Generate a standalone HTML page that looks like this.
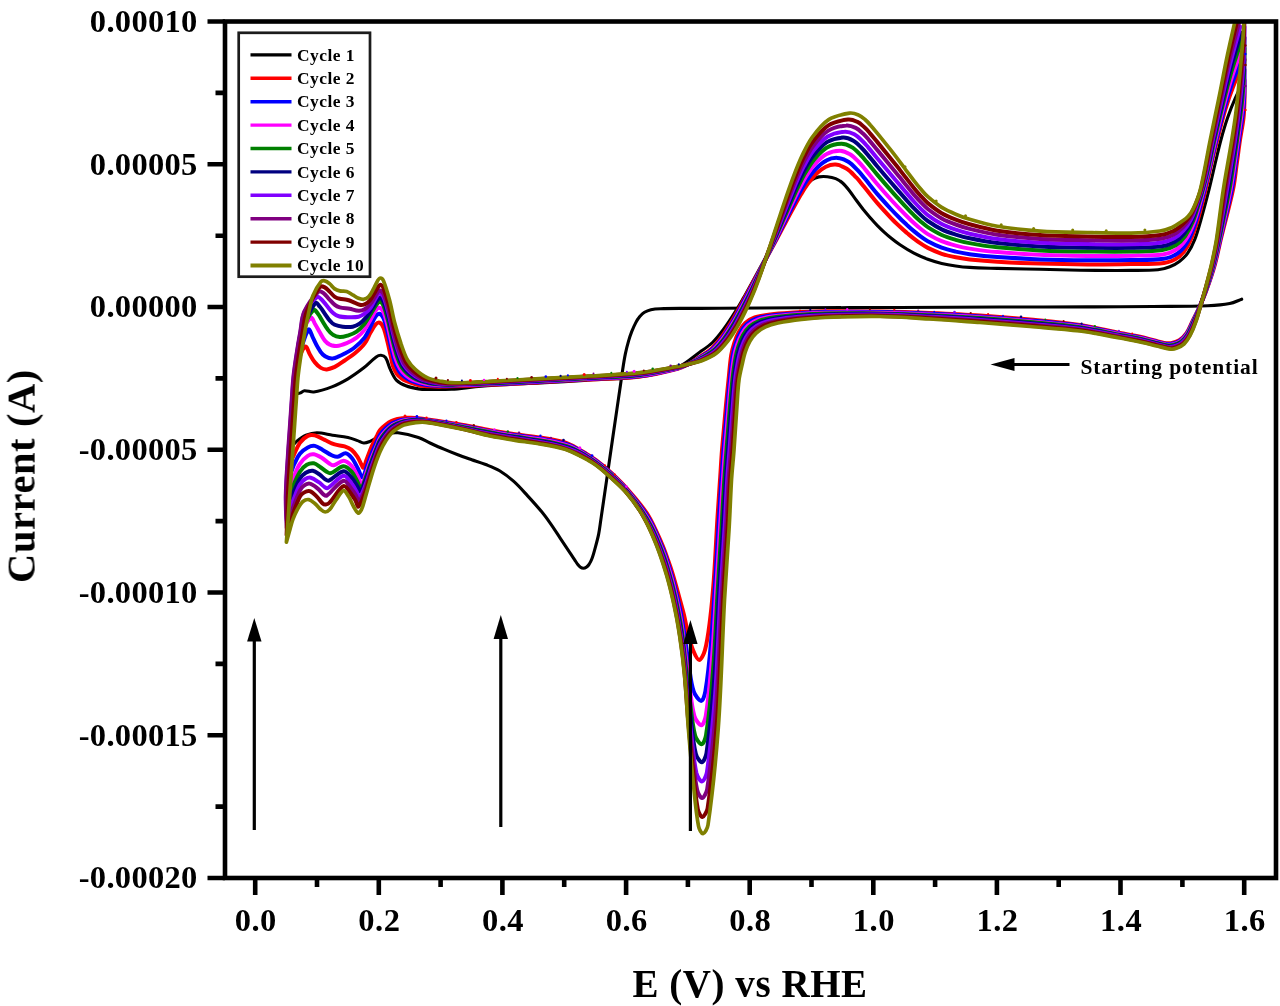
<!DOCTYPE html>
<html lang="en"><head><meta charset="utf-8"><title>Cyclic voltammetry</title>
<style>html,body{margin:0;padding:0;background:#fff}svg{display:block}text{font-family:"Liberation Serif","Times New Roman",serif;font-weight:bold;fill:#000}</style>
</head><body>
<svg width="1280" height="1006" viewBox="0 0 1280 1006">
<defs><clipPath id="plot"><rect x="225" y="20.5" width="1051" height="857.5"/></clipPath><filter id="soft" x="-2%" y="-2%" width="104%" height="104%"><feGaussianBlur stdDeviation="0.7"/></filter></defs>
<rect width="1280" height="1006" fill="#fff"/>
<g filter="url(#soft)">
<g clip-path="url(#plot)" fill="none" stroke-linejoin="round" stroke-linecap="round">
<path d="M1241.7 299.2C1237.7 300.7 1233.9 302.8 1229.7 303.6C1222.6 305.0 1215.1 305.5 1207.8 305.8C1189.6 306.5 1171.3 306.3 1153.0 306.5C1131.2 306.7 1109.3 306.8 1087.5 306.9C1058.3 307.0 1029.2 306.9 1000.0 307.0C966.7 307.1 933.3 307.4 900.0 307.5C866.7 307.6 833.3 307.7 800.0 307.8C773.3 307.9 746.7 308.2 720.0 308.3C706.5 308.4 693.0 308.3 679.5 308.4C673.1 308.4 666.8 308.4 660.4 308.7C657.2 308.8 654.0 309.0 650.9 309.7C648.7 310.2 646.4 311.1 644.5 312.3C642.7 313.4 641.2 315.0 639.8 316.6C638.3 318.4 636.9 320.5 635.8 322.6C634.3 325.4 633.0 328.4 631.8 331.4C630.6 334.5 629.5 337.7 628.6 340.9C627.4 345.1 626.3 349.3 625.4 353.6C624.3 358.9 623.5 364.2 622.7 369.5C621.9 374.8 621.2 380.2 620.4 385.5C618.1 401.4 615.7 417.3 613.4 433.2C611.1 449.1 608.8 465.0 606.5 480.9C604.6 493.9 602.7 507.0 600.8 520.0C600.1 524.6 599.6 529.3 598.7 533.9C597.8 538.6 596.5 543.2 595.2 547.8C594.2 551.6 593.2 555.4 591.8 559.0C591.1 560.9 590.1 562.8 589.0 564.5C588.3 565.5 587.3 566.5 586.3 567.2C585.5 567.8 584.4 568.3 583.4 568.3C582.4 568.3 581.3 567.8 580.5 567.2C579.5 566.5 578.6 565.5 577.8 564.5C576.8 563.2 575.9 561.7 575.0 560.3C573.3 557.8 571.7 555.3 570.0 552.8C566.7 547.8 563.3 542.8 560.0 537.8C556.7 532.8 553.5 527.7 550.0 522.8C547.2 518.9 544.4 515.0 541.3 511.3C536.8 505.9 532.1 500.7 527.4 495.6C522.9 490.7 518.5 485.6 513.5 481.2C509.2 477.4 504.5 473.8 499.6 470.8C495.3 468.2 490.4 466.4 485.7 464.5C481.1 462.7 476.4 461.3 471.7 459.7C467.1 458.1 462.4 456.5 457.8 454.8C453.1 453.0 448.5 451.2 443.9 449.2C439.2 447.2 434.6 445.1 430.0 443.0C426.1 441.2 422.5 438.8 418.4 437.5C411.8 435.4 404.8 433.7 398.0 432.8C395.0 432.4 391.7 432.8 388.8 433.6C384.5 434.7 380.4 436.6 376.2 438.3C374.1 439.2 372.2 440.6 370.0 441.4C368.0 442.2 365.8 443.1 363.8 443.0C361.6 442.9 359.6 441.3 357.5 440.6C354.4 439.5 351.2 438.2 348.0 437.5C342.9 436.4 337.7 436.0 332.5 435.2C327.3 434.4 322.1 432.8 316.9 432.8C313.2 432.8 309.4 433.8 306.0 435.2C302.6 436.6 299.5 439.0 296.6 441.4C294.7 443.0 293.1 445.1 291.5 447.0C290.6 448.1 289.8 449.3 289.0 450.5L289.0 450.5C289.5 443.7 289.9 436.8 290.5 430.0C291.4 420.7 291.9 411.2 293.5 402.0C293.9 399.4 295.0 396.5 296.5 394.5C297.3 393.4 299.2 393.4 300.5 392.8C301.8 392.2 303.0 390.8 304.4 390.7C307.4 390.5 310.7 392.4 313.8 392.0C320.1 391.1 326.5 388.9 332.5 386.6C337.9 384.5 343.0 381.7 348.0 378.8C353.5 375.5 358.7 371.7 363.8 367.8C368.1 364.4 371.8 360.1 376.2 356.9C377.6 355.9 379.5 355.2 381.0 355.3C382.6 355.4 384.7 356.3 385.6 357.7C387.8 361.0 388.5 365.6 390.3 369.4C392.1 373.2 393.8 377.4 396.6 380.3C399.0 382.8 402.6 384.5 405.9 385.8C409.9 387.4 414.2 388.2 418.4 388.9C421.4 389.4 424.6 389.4 427.7 389.4C435.7 389.5 443.7 389.6 451.6 389.2C459.6 388.8 467.5 387.5 475.5 386.8C483.4 386.1 491.4 385.5 499.3 385.0C512.9 384.2 526.4 383.7 540.0 383.0C556.7 382.1 573.3 381.0 590.0 380.0C606.7 379.0 623.5 379.2 640.0 376.8C652.7 375.0 665.8 372.3 677.5 367.5C685.8 364.1 692.6 357.3 700.0 352.0C704.3 349.0 708.8 346.1 712.5 342.5C716.6 338.6 720.0 334.1 723.4 329.5C727.3 324.3 730.9 318.7 734.4 313.1C737.7 308.0 740.7 302.7 743.8 297.4C746.7 292.2 749.6 287.0 752.5 281.7C755.7 275.9 758.8 270.1 762.0 264.3C765.9 257.0 769.8 249.8 773.7 242.5C777.6 235.2 781.5 227.9 785.5 220.7C789.6 213.1 793.7 205.5 798.0 198.0C800.2 194.1 802.3 190.1 805.0 186.6C807.0 184.0 809.4 181.5 812.0 179.7C814.0 178.3 816.6 177.3 819.0 176.9C821.7 176.4 824.6 176.5 827.3 176.7C830.1 177.0 833.1 177.6 835.7 178.6C838.2 179.6 840.6 181.2 842.6 183.0C845.2 185.3 847.4 188.2 849.6 191.0C852.0 194.1 854.2 197.4 856.5 200.5C858.8 203.6 861.1 206.7 863.5 209.8C865.8 212.6 868.1 215.4 870.5 218.1C872.7 220.7 875.0 223.2 877.4 225.6C879.7 227.9 882.0 230.2 884.4 232.4C886.6 234.4 888.9 236.4 891.3 238.3C894.1 240.6 897.0 242.8 900.0 244.8C904.5 247.8 909.1 250.7 913.9 253.2C918.4 255.5 923.1 257.5 927.8 259.3C932.3 261.0 937.0 262.3 941.7 263.4C946.3 264.5 951.0 265.3 955.7 266.0C960.3 266.7 965.0 267.2 969.6 267.4C978.9 267.9 988.1 268.1 997.4 268.4C1011.6 268.8 1025.8 269.0 1040.0 269.3C1053.3 269.6 1066.7 270.0 1080.0 270.2C1096.7 270.4 1113.3 270.5 1130.0 270.4C1139.3 270.4 1148.7 270.6 1157.9 269.8C1162.0 269.4 1166.0 268.3 1169.8 266.8C1173.2 265.5 1176.5 263.7 1179.4 261.5C1182.5 259.1 1185.5 256.3 1187.7 253.1C1190.6 248.9 1192.9 244.2 1194.8 239.4C1197.3 233.0 1199.1 226.2 1201.0 219.5C1203.8 209.6 1206.5 199.7 1209.0 189.7C1211.5 179.8 1213.6 169.9 1216.0 160.0C1217.6 153.3 1219.1 146.6 1220.9 140.0C1222.9 132.6 1225.0 125.2 1227.5 118.0C1229.8 111.4 1232.3 104.8 1235.2 98.4C1238.0 92.1 1241.4 86.1 1244.5 80.0" stroke="#000000" stroke-width="3.1"/>
<path d="M1244.5 80.0C1244.5 86.7 1244.7 93.3 1244.5 100.0C1244.3 106.0 1244.2 112.0 1243.5 118.0C1242.7 125.4 1241.1 132.7 1240.0 140.0C1238.9 147.3 1238.0 154.7 1237.0 162.0C1235.7 171.2 1234.9 180.6 1233.0 189.7C1229.5 206.4 1224.8 222.8 1220.8 239.4C1218.7 248.3 1217.0 257.2 1214.5 266.0C1212.2 274.1 1209.4 282.1 1206.5 290.0C1204.3 296.1 1201.7 302.1 1199.0 308.0C1197.0 312.4 1194.7 316.7 1192.5 321.1C1190.5 325.1 1189.0 329.5 1186.5 333.1C1184.6 335.8 1182.1 338.4 1179.4 340.2C1177.0 341.8 1173.9 342.7 1171.0 343.2C1168.7 343.6 1166.3 343.3 1164.0 343.0C1161.9 342.7 1159.9 341.9 1157.9 341.4C1151.9 339.8 1146.0 338.0 1140.0 336.7C1133.4 335.2 1126.7 334.3 1120.0 333.0C1106.7 330.4 1093.4 327.0 1080.0 325.0C1063.4 322.5 1046.7 321.1 1030.0 319.5C1013.4 317.9 996.7 316.6 980.0 315.5C963.3 314.4 946.7 313.7 930.0 313.0C913.3 312.3 896.7 311.8 880.0 311.5C861.7 311.2 843.3 311.0 825.0 311.2C814.6 311.4 804.2 311.9 793.8 312.5C785.9 313.0 778.1 313.4 770.3 314.4C765.0 315.1 759.6 315.8 754.7 317.5C751.3 318.7 747.9 320.6 745.3 323.0C742.7 325.3 740.7 328.5 739.0 331.6C737.1 335.0 735.6 338.8 734.4 342.5C733.1 346.6 731.9 350.8 731.2 355.0C729.9 363.3 729.4 371.7 728.5 380.0C727.6 388.3 726.8 396.7 726.0 405.0C724.6 420.0 723.2 435.0 722.0 450.0C721.2 460.0 720.7 470.0 720.0 480.0C719.2 492.5 718.3 505.0 717.5 517.5C716.2 538.3 715.3 559.2 713.8 580.0C712.8 593.4 711.7 606.7 710.0 620.0C708.7 630.1 707.6 640.3 705.0 650.0C704.0 653.7 701.2 660.0 699.2 660.0C697.2 660.0 694.5 653.6 693.0 650.0C690.8 644.6 689.5 638.7 688.0 633.0C686.5 627.1 685.4 621.0 684.0 615.0C682.8 610.0 681.4 605.0 680.0 600.0C677.7 591.7 675.5 583.3 673.0 575.0C671.5 570.0 669.8 565.0 668.0 560.0C666.1 554.6 664.3 549.2 662.0 544.0C657.6 534.2 653.6 524.1 648.0 515.0C642.9 506.8 636.4 499.3 630.0 492.0C624.4 485.5 618.3 479.4 612.0 473.5C606.9 468.7 601.6 464.1 596.0 460.0C590.9 456.3 585.5 453.1 580.0 450.0C575.1 447.3 570.3 444.2 565.0 442.5C557.0 440.0 548.4 438.9 540.0 437.5C531.7 436.1 523.3 435.5 515.0 434.3C506.6 433.1 498.3 431.8 490.0 430.3C481.6 428.8 473.4 426.8 465.0 425.3C456.7 423.8 448.3 422.6 440.0 421.3C432.8 420.2 425.6 419.1 418.4 418.3C415.3 417.9 412.1 417.9 409.0 417.8C407.3 417.8 405.6 417.7 403.9 417.9C401.8 418.1 399.6 418.5 397.5 419.0C395.6 419.5 393.7 420.1 391.9 420.9C389.8 421.9 387.8 423.1 386.0 424.5C383.9 426.1 381.7 427.9 380.0 430.0C378.8 431.4 378.2 433.2 377.4 434.9C375.4 438.9 373.3 442.8 371.5 446.9C369.7 451.1 368.2 455.5 366.5 459.8C365.5 462.4 364.7 466.5 363.5 467.7C363.0 468.2 362.1 465.8 361.5 464.8C360.1 462.2 359.1 459.3 357.5 456.8C355.8 454.3 353.9 451.8 351.6 449.9C349.6 448.3 347.1 447.2 344.6 446.4C341.4 445.4 337.9 445.4 334.7 444.4C331.2 443.3 328.0 441.4 324.7 439.9C321.4 438.4 318.2 436.2 314.8 435.4C312.6 434.9 309.8 434.9 307.8 435.9C304.8 437.4 301.9 440.1 299.9 442.9C297.3 446.4 295.9 450.8 293.9 454.8L287.7 468.0L287.7 468.0C288.8 463.7 290.5 459.4 291.0 455.0C292.3 444.6 292.5 433.9 293.2 423.4C293.7 415.6 294.3 407.8 294.8 400.0C295.3 392.7 295.7 385.3 296.4 378.0C297.0 371.8 297.1 365.4 298.8 359.5C300.1 354.9 303.1 347.5 305.4 346.5C306.8 345.9 308.3 351.9 309.9 354.5C311.5 357.2 312.9 360.0 314.9 362.4C316.6 364.5 318.6 366.6 320.8 367.9C322.5 368.9 324.8 369.5 326.8 369.4C329.5 369.2 332.3 368.1 334.8 366.9C338.3 365.2 341.4 362.7 344.7 360.5C348.0 358.2 351.5 356.1 354.6 353.5C358.2 350.5 361.8 347.3 364.6 343.6C367.1 340.3 368.4 336.2 370.5 332.6C372.1 329.9 373.5 326.9 375.5 324.7C376.5 323.6 378.4 322.3 379.5 322.7C381.1 323.3 382.7 325.8 383.5 327.7C385.3 332.1 386.2 336.9 387.4 341.6C388.5 345.9 389.4 350.2 390.4 354.5C391.3 358.3 391.7 362.3 392.9 366.0C393.8 368.6 395.1 371.2 396.6 373.5C397.8 375.2 399.4 376.7 401.0 378.0C402.5 379.2 404.2 380.3 406.0 381.0C409.9 382.6 413.9 384.1 418.0 385.0C421.9 385.9 426.0 386.0 430.0 386.3C434.0 386.6 438.0 386.7 442.0 386.6C458.0 386.2 474.0 385.5 490.0 384.8C506.7 384.1 523.3 383.1 540.0 382.2C556.7 381.3 573.3 380.4 590.0 379.5C606.7 378.5 623.5 378.5 640.0 376.5C652.6 375.0 665.2 372.1 677.5 368.8C681.9 367.6 686.0 365.3 690.0 363.2C693.5 361.3 696.7 359.0 700.0 356.8C704.1 354.0 708.4 351.6 712.0 348.3C715.8 344.7 718.9 340.5 722.0 336.3C725.4 331.6 728.5 326.6 731.5 321.6C734.3 316.9 736.9 312.1 739.5 307.4C742.4 302.2 745.2 296.8 748.0 291.6C750.3 287.3 752.7 283.0 755.0 278.7C757.7 273.7 760.5 268.8 763.2 263.8C765.7 259.3 768.3 254.7 770.8 250.1C773.0 246.1 775.2 242.1 777.3 238.1C780.0 233.1 782.7 228.0 785.4 222.9C788.1 217.8 790.8 212.7 793.6 207.6C796.0 203.2 798.4 198.9 800.9 194.6C803.1 191.0 805.3 187.3 807.8 183.9C810.4 180.4 813.1 176.8 816.2 173.8C819.1 171.1 822.4 168.4 825.9 166.7C828.9 165.3 832.5 164.3 835.7 164.6C839.5 165.0 843.5 166.7 846.8 168.7C850.5 171.0 853.4 174.6 856.5 177.7C859.0 180.3 861.2 183.2 863.5 186.0C868.2 191.7 872.6 197.6 877.4 203.1C881.9 208.3 886.6 213.3 891.3 218.3C894.1 221.2 897.1 224.0 900.0 226.7C902.3 228.9 904.6 230.9 907.0 233.0C909.3 234.9 911.5 236.8 913.9 238.6C916.2 240.4 918.5 242.1 920.9 243.7C923.1 245.2 925.4 246.7 927.8 247.9C932.3 250.1 936.9 252.2 941.7 253.8C946.2 255.3 951.0 256.3 955.7 257.2C960.3 258.1 964.9 258.9 969.6 259.4C978.8 260.3 988.1 261.1 997.4 261.7C1011.6 262.5 1025.8 263.2 1040.0 263.6C1055.8 264.1 1071.7 264.4 1087.5 264.5C1102.0 264.6 1116.5 264.4 1131.0 264.1C1142.0 263.9 1153.2 264.5 1164.0 263.0C1168.9 262.3 1174.1 260.4 1178.0 257.5C1182.1 254.5 1185.5 250.0 1188.0 245.5C1191.7 238.8 1194.2 231.3 1196.5 224.0C1199.8 213.5 1202.4 202.7 1205.0 192.0C1207.2 183.0 1208.9 174.0 1211.0 165.0C1213.2 155.6 1215.6 146.3 1218.0 137.0C1220.4 127.6 1222.7 118.2 1225.5 109.0C1227.7 101.6 1230.2 94.2 1233.0 87.0C1236.5 77.9 1240.7 69.0 1244.5 60.0" stroke="#ff0000" stroke-width="4"/>
<path d="M1244.5 69.4C1244.5 76.7 1244.6 84.0 1244.4 91.2C1244.2 98.0 1243.9 104.7 1243.1 111.5C1242.2 119.7 1240.7 127.9 1239.5 136.2C1238.4 143.9 1237.5 151.6 1236.3 159.2C1234.9 169.4 1233.8 179.6 1231.8 189.7C1228.4 206.4 1224.1 222.9 1220.2 239.5C1218.2 248.2 1216.5 257.1 1214.1 265.7C1211.9 273.8 1209.2 281.8 1206.4 289.7C1204.2 295.8 1201.7 301.9 1199.2 307.9C1197.2 312.3 1195.1 316.7 1193.0 321.1C1191.0 325.2 1189.4 329.6 1187.0 333.4C1185.1 336.2 1182.7 338.8 1180.0 340.6C1177.6 342.3 1174.6 343.2 1171.8 343.8C1169.5 344.3 1167.1 344.1 1164.9 343.8C1162.5 343.5 1160.2 342.6 1157.9 342.0C1151.9 340.5 1146.0 338.7 1140.0 337.4C1133.4 335.9 1126.7 334.9 1120.0 333.6C1106.7 331.0 1093.4 327.7 1080.0 325.8C1063.4 323.3 1046.7 321.9 1030.0 320.4C1013.4 318.8 996.7 317.5 980.0 316.4C963.3 315.3 946.7 314.5 930.0 313.8C913.3 313.0 896.7 312.4 880.0 312.1C861.7 311.8 843.3 311.8 825.0 312.0C814.9 312.2 804.8 312.7 794.7 313.4C786.9 313.9 779.0 314.4 771.3 315.5C766.1 316.2 760.9 317.0 756.1 318.7C752.7 319.9 749.3 321.9 746.7 324.2C744.1 326.6 742.1 329.7 740.4 332.8C738.5 336.2 737.0 339.9 735.8 343.7C734.4 347.7 733.3 351.9 732.6 356.2C731.3 364.1 730.7 372.0 729.8 380.0C728.9 388.3 728.1 396.7 727.4 405.0C726.0 420.0 724.7 435.0 723.5 450.0C722.7 460.0 722.1 470.0 721.4 480.0C720.6 493.1 719.7 506.3 718.9 519.4C717.6 540.8 716.5 562.2 715.1 583.6C713.8 603.2 712.8 622.8 711.0 642.4C709.6 658.7 708.1 675.1 705.4 691.2C704.8 694.7 703.0 700.9 701.2 700.9C699.1 700.9 694.9 695.2 693.7 691.4C690.7 682.7 690.2 672.9 688.6 663.6C687.1 654.3 686.0 645.0 684.6 635.7C683.3 627.6 682.2 619.5 680.6 611.4C678.6 601.7 676.3 592.1 673.8 582.5C672.3 576.8 670.6 571.2 668.8 565.6C666.8 559.7 665.0 553.6 662.6 547.9C658.4 538.0 654.4 527.9 649.0 518.6C644.1 510.2 637.8 502.5 631.6 495.0C626.1 488.3 620.1 482.0 613.9 476.0C608.8 471.1 603.4 466.4 597.8 462.1C592.7 458.3 587.3 455.0 581.9 451.8C577.0 449.0 572.2 445.9 566.9 444.2C559.2 441.7 551.1 440.4 543.1 439.0C534.8 437.5 526.4 436.7 518.1 435.5C509.8 434.3 501.4 433.0 493.1 431.6C484.8 430.1 476.5 428.2 468.1 426.6C459.8 425.1 451.5 423.7 443.1 422.4C435.6 421.2 428.0 420.1 420.5 419.2C417.2 418.9 413.8 418.8 410.5 418.9C408.3 418.9 406.1 419.1 403.9 419.5C401.7 419.8 399.6 420.4 397.5 421.1C395.6 421.7 393.6 422.5 391.9 423.5C389.8 424.8 387.8 426.3 386.0 428.0C383.8 430.1 381.7 432.3 380.0 434.8C378.6 437.0 377.8 439.5 376.7 441.9C374.8 446.2 372.8 450.5 371.1 454.8C369.3 459.1 367.9 463.6 366.3 467.9C365.1 471.2 363.9 477.7 362.5 477.7C361.0 477.7 359.3 471.0 357.5 467.7C355.7 464.3 354.0 460.7 351.6 457.8C350.0 455.9 347.8 453.5 345.6 453.3C343.1 453.1 340.4 456.4 337.7 456.8C335.8 457.1 333.6 456.2 331.7 455.3C328.6 453.9 325.8 451.6 322.7 449.9C320.1 448.5 317.5 446.4 314.8 445.9C312.6 445.5 309.9 446.3 307.8 447.4C304.9 448.9 302.0 451.2 299.9 453.8C297.3 457.0 295.9 461.1 293.9 464.8L287.5 482.0L287.5 482.0C288.5 473.0 289.7 464.0 290.5 455.0C291.4 444.5 292.0 433.9 292.7 423.4C293.2 415.6 293.8 407.8 294.3 400.0C294.8 392.7 295.2 385.3 295.9 378.0C296.5 371.8 296.8 365.5 298.3 359.5C300.9 349.4 304.6 335.3 308.4 329.6C309.5 328.0 311.5 334.9 312.9 337.6C314.6 340.9 316.0 344.3 317.9 347.5C319.3 350.0 320.8 352.6 322.8 354.5C324.4 356.1 326.7 357.4 328.8 358.0C330.7 358.5 332.9 358.5 334.8 358.0C338.2 357.0 341.5 355.2 344.7 353.5C348.1 351.7 351.6 349.9 354.6 347.5C358.2 344.6 361.8 341.3 364.6 337.6C367.1 334.4 368.6 330.4 370.5 326.7C372.2 323.4 373.4 319.7 375.5 316.7C376.4 315.4 378.3 313.5 379.5 313.7C381.0 314.0 382.7 316.5 383.5 318.3C385.5 323.0 386.5 328.2 387.8 333.2C389.1 338.1 390.0 343.0 391.2 347.9C392.3 352.5 393.1 357.2 394.6 361.7C395.6 364.8 397.0 368.0 398.8 370.8C400.1 372.9 402.0 374.7 403.9 376.3C405.8 377.9 408.0 379.4 410.3 380.4C414.3 382.1 418.6 383.4 422.8 384.3C426.5 385.1 430.5 385.3 434.3 385.6C438.7 385.8 443.2 385.9 447.6 385.8C461.7 385.4 475.9 385.0 490.0 384.3C506.7 383.6 523.3 382.6 540.0 381.7C556.7 380.9 573.3 380.0 590.0 379.0C606.7 378.1 623.5 378.0 640.0 376.0C652.6 374.5 665.2 371.6 677.5 368.5C681.9 367.4 686.0 365.3 690.0 363.3C693.5 361.6 696.8 359.4 700.1 357.3C704.3 354.7 708.9 352.3 712.5 348.9C716.4 345.4 719.6 341.1 722.8 336.9C726.2 332.2 729.3 327.2 732.3 322.2C735.2 317.4 737.8 312.5 740.4 307.6C743.1 302.6 745.7 297.6 748.4 292.5C750.7 288.1 753.0 283.6 755.4 279.1C758.0 273.9 760.7 268.7 763.4 263.6C765.8 259.0 768.2 254.4 770.6 249.8C772.7 245.7 774.8 241.6 776.9 237.6C779.5 232.4 782.0 227.3 784.6 222.1C787.3 216.8 789.9 211.5 792.6 206.3C795.0 201.5 797.4 196.8 800.0 192.1C802.2 188.1 804.5 184.0 807.0 180.2C809.7 176.4 812.4 172.4 815.7 169.1C818.8 165.9 822.3 162.6 826.3 160.6C829.6 158.8 833.8 157.7 837.5 157.9C841.2 158.1 845.1 159.8 848.3 161.7C851.8 163.9 854.7 167.2 857.6 170.2C860.0 172.6 862.2 175.4 864.4 178.1C868.8 183.4 872.9 188.8 877.4 194.1C881.9 199.3 886.6 204.4 891.3 209.5C894.1 212.5 897.0 215.4 899.9 218.2C902.2 220.5 904.6 222.7 906.9 224.9C909.2 227.0 911.5 229.1 913.9 231.1C916.2 233.0 918.5 234.9 920.9 236.6C923.1 238.2 925.4 239.9 927.8 241.2C932.3 243.6 936.9 245.9 941.7 247.7C946.2 249.4 951.0 250.5 955.7 251.6C960.3 252.7 964.9 253.5 969.6 254.2C978.8 255.4 988.1 256.4 997.4 257.1C1011.6 258.1 1025.8 258.9 1040.0 259.4C1055.8 260.0 1071.7 260.2 1087.5 260.3C1102.0 260.4 1116.5 260.4 1131.0 260.1C1141.8 259.9 1152.9 260.3 1163.5 258.8C1168.3 258.2 1173.3 256.3 1177.2 253.6C1181.2 250.9 1184.6 246.7 1187.1 242.4C1190.6 236.5 1193.1 229.7 1195.4 223.0C1198.6 213.6 1201.0 203.8 1203.5 194.1C1205.7 185.5 1207.6 176.9 1209.6 168.2C1212.1 157.9 1214.4 147.6 1217.0 137.4C1219.5 127.4 1221.9 117.5 1224.6 107.6C1227.0 99.3 1229.4 91.0 1232.3 82.8C1235.8 72.8 1239.9 63.1 1243.7 53.2" stroke="#0000ff" stroke-width="4"/>
<path d="M1244.5 58.8C1244.4 66.7 1244.5 74.6 1244.2 82.5C1244.0 90.0 1243.5 97.5 1242.8 104.9C1241.8 114.1 1240.3 123.2 1239.1 132.3C1238.0 140.4 1236.9 148.5 1235.7 156.5C1234.1 167.6 1232.7 178.7 1230.6 189.7C1227.4 206.4 1223.4 222.9 1219.7 239.6C1217.8 248.2 1216.1 256.9 1213.8 265.5C1211.6 273.5 1209.0 281.5 1206.3 289.4C1204.2 295.6 1201.8 301.7 1199.3 307.7C1197.5 312.2 1195.4 316.7 1193.4 321.1C1191.5 325.3 1189.9 329.8 1187.4 333.7C1185.6 336.5 1183.3 339.2 1180.6 341.1C1178.3 342.8 1175.3 343.8 1172.5 344.4C1170.3 344.9 1168.0 344.8 1165.8 344.6C1163.1 344.2 1160.5 343.3 1157.9 342.6C1151.9 341.1 1146.0 339.3 1140.0 338.0C1133.4 336.6 1126.7 335.5 1120.0 334.2C1106.7 331.7 1093.4 328.4 1080.0 326.5C1063.4 324.1 1046.7 322.8 1030.0 321.2C1013.4 319.7 996.7 318.4 980.0 317.2C963.3 316.1 946.7 315.3 930.0 314.5C913.3 313.8 896.7 313.0 880.0 312.8C861.7 312.5 843.3 312.5 825.0 312.8C815.2 313.0 805.5 313.5 795.7 314.2C787.9 314.8 780.0 315.4 772.2 316.5C767.2 317.3 762.1 318.1 757.4 319.9C754.0 321.1 750.7 323.1 748.0 325.5C745.5 327.8 743.5 330.9 741.8 334.0C739.8 337.4 738.4 341.1 737.1 344.9C735.8 348.9 734.7 353.1 734.0 357.4C732.7 364.8 732.0 372.4 731.1 380.0C730.2 388.3 729.5 396.7 728.8 405.0C727.4 420.0 726.2 435.0 725.0 450.0C724.2 460.0 723.5 470.0 722.9 480.0C722.0 493.7 721.2 507.3 720.4 521.0C719.1 542.8 717.8 564.5 716.4 586.3C715.0 609.9 714.0 633.5 712.1 657.1C710.5 676.6 708.8 696.4 705.8 715.7C705.2 719.1 703.2 725.1 701.4 725.2C699.4 725.3 695.4 719.7 694.4 716.1C691.4 705.8 690.8 694.4 689.2 683.6C687.7 672.7 686.5 661.8 685.1 651.0C683.8 641.0 682.8 631.0 681.1 621.1C679.3 610.7 677.0 600.3 674.6 590.0C673.2 583.7 671.4 577.5 669.5 571.2C667.5 564.7 665.7 558.1 663.1 551.8C659.2 541.8 655.2 531.6 650.0 522.2C645.2 513.7 639.3 505.7 633.2 498.0C627.9 491.1 621.9 484.7 615.8 478.5C610.7 473.4 605.2 468.7 599.5 464.2C594.5 460.4 589.2 456.9 583.8 453.6C578.9 450.7 574.0 447.7 568.8 445.9C561.5 443.3 553.8 441.9 546.2 440.4C538.0 438.9 529.6 438.0 521.2 436.7C512.9 435.4 504.6 434.3 496.2 432.8C487.9 431.3 479.6 429.5 471.2 428.0C462.9 426.4 454.6 424.8 446.2 423.4C438.1 422.1 430.0 420.8 421.9 419.9C418.4 419.5 415.0 419.5 411.5 419.6C409.0 419.7 406.4 420.0 403.9 420.5C401.7 421.0 399.6 421.7 397.5 422.5C395.6 423.3 393.6 424.2 391.9 425.3C389.8 426.8 387.8 428.6 386.0 430.5C383.8 432.8 381.6 435.4 380.0 438.1C378.4 440.8 377.5 443.9 376.3 446.8C374.4 451.2 372.5 455.7 370.8 460.3C369.1 464.6 367.7 469.1 366.1 473.5C364.8 477.2 363.6 484.2 362.0 484.6C360.7 484.9 359.1 478.6 357.5 475.7C355.6 472.3 354.1 468.5 351.6 465.8C349.5 463.6 346.4 460.9 343.6 460.8C340.4 460.7 337.0 464.6 333.7 465.3C332.4 465.6 330.9 464.5 329.7 463.8C326.9 462.0 324.5 459.5 321.7 457.8C319.2 456.3 316.5 454.7 313.8 454.3C311.9 454.0 309.4 454.7 307.8 455.8C304.8 457.8 301.9 460.7 299.9 463.8C296.9 468.3 295.2 473.7 292.9 478.7L287.4 497.0L287.4 497.0C288.2 483.0 289.1 469.0 290.0 455.0C290.7 444.5 291.5 433.9 292.2 423.4C292.7 415.6 293.3 407.8 293.8 400.0C294.3 392.7 294.7 385.3 295.4 378.0C296.0 371.8 296.9 365.6 297.8 359.5C299.2 350.2 299.6 340.4 302.4 331.6C304.0 326.5 308.0 319.5 310.9 317.7C312.2 316.9 313.7 321.6 314.9 323.7C316.7 326.6 318.2 329.7 319.9 332.6C321.5 335.3 322.8 338.2 324.8 340.6C326.1 342.2 327.9 343.7 329.8 344.6C331.9 345.5 334.4 346.2 336.7 346.0C340.1 345.7 343.5 344.4 346.7 343.1C350.2 341.6 353.6 339.9 356.6 337.6C359.6 335.4 362.3 332.6 364.6 329.6C366.9 326.6 368.6 323.0 370.5 319.7C372.2 316.8 373.5 313.5 375.5 310.8C376.5 309.5 378.3 307.6 379.5 307.8C381.0 308.1 382.7 310.5 383.5 312.3C385.6 317.1 386.7 322.5 388.1 327.7C389.4 333.0 390.4 338.4 391.7 343.7C393.0 348.8 394.0 353.9 395.7 358.9C396.8 362.4 398.3 365.9 400.2 369.0C401.6 371.4 403.6 373.4 405.7 375.2C408.0 377.1 410.5 378.8 413.2 380.0C417.2 381.7 421.6 382.9 425.9 383.8C429.6 384.6 433.4 384.9 437.1 385.1C441.8 385.4 446.5 385.3 451.2 385.2C464.2 384.9 477.1 384.4 490.0 383.9C506.7 383.1 523.3 382.1 540.0 381.3C556.7 380.4 573.3 379.5 590.0 378.6C606.7 377.6 623.5 377.4 640.0 375.4C652.6 374.0 665.2 371.2 677.5 368.2C681.8 367.1 685.9 365.2 690.0 363.4C693.5 361.8 696.9 359.9 700.3 357.9C704.6 355.3 709.3 353.0 713.1 349.7C717.1 346.2 720.4 341.8 723.6 337.5C727.1 332.9 730.1 327.9 733.1 322.9C736.1 318.0 738.7 312.9 741.4 307.8C743.9 303.1 746.4 298.4 748.8 293.6C751.2 288.9 753.5 284.2 755.8 279.5C758.4 274.1 761.0 268.7 763.6 263.3C765.9 258.6 768.2 254.0 770.4 249.4C772.5 245.3 774.4 241.1 776.4 237.0C778.9 231.8 781.3 226.5 783.8 221.3C786.4 215.8 788.9 210.3 791.5 204.9C794.0 199.7 796.4 194.5 799.0 189.4C801.3 185.0 803.6 180.5 806.2 176.3C808.9 172.0 811.7 167.7 815.1 164.0C818.5 160.3 822.3 156.3 826.7 154.0C830.4 151.9 835.2 150.7 839.5 150.7C843.0 150.7 846.8 152.4 850.0 154.2C853.3 156.2 856.0 159.2 858.8 162.0C861.2 164.4 863.2 167.0 865.4 169.6C869.4 174.4 873.3 179.5 877.4 184.3C881.9 189.6 886.6 194.9 891.3 200.0C894.1 203.1 897.0 206.1 899.9 209.1C902.2 211.5 904.5 213.9 906.9 216.2C909.2 218.5 911.5 220.8 913.9 223.0C916.2 225.1 918.5 227.1 920.9 229.0C923.1 230.8 925.3 232.6 927.8 234.1C932.3 236.7 936.9 239.2 941.7 241.2C946.2 243.1 951.0 244.4 955.7 245.6C960.3 246.8 964.9 247.8 969.6 248.6C978.8 250.0 988.1 251.3 997.4 252.1C1011.6 253.4 1025.8 254.2 1040.0 254.8C1055.8 255.5 1071.7 255.7 1087.5 255.9C1102.0 256.0 1116.5 256.0 1131.0 255.7C1141.6 255.5 1152.5 255.8 1162.9 254.4C1167.6 253.7 1172.5 252.0 1176.4 249.4C1180.2 246.9 1183.6 243.1 1186.1 239.2C1189.5 233.9 1192.0 227.9 1194.2 222.0C1197.3 213.7 1199.5 205.0 1201.8 196.5C1204.1 188.2 1206.1 180.0 1208.1 171.7C1210.8 160.4 1213.2 149.1 1215.9 137.8C1218.4 127.2 1220.9 116.7 1223.7 106.1C1226.1 96.8 1228.6 87.5 1231.5 78.3C1235.0 67.4 1239.0 56.7 1242.7 46.0" stroke="#ff00ff" stroke-width="4"/>
<path d="M1244.5 48.1C1244.4 56.7 1244.5 65.2 1244.1 73.8C1243.8 82.0 1243.2 90.2 1242.4 98.3C1241.4 108.4 1239.9 118.5 1238.6 128.5C1237.5 136.9 1236.3 145.4 1235.0 153.8C1233.2 165.7 1231.6 177.8 1229.4 189.7C1226.3 206.4 1222.7 223.0 1219.2 239.6C1217.3 248.2 1215.6 256.8 1213.4 265.2C1211.3 273.3 1208.8 281.2 1206.2 289.1C1204.1 295.3 1201.8 301.5 1199.5 307.6C1197.7 312.1 1195.8 316.6 1193.8 321.1C1191.9 325.4 1190.3 330.0 1187.8 334.0C1186.1 336.8 1183.8 339.6 1181.2 341.6C1178.9 343.2 1176.0 344.3 1173.2 345.0C1171.1 345.5 1168.8 345.6 1166.6 345.3C1163.7 345.0 1160.8 343.9 1157.9 343.2C1151.9 341.7 1146.0 340.0 1140.0 338.7C1133.4 337.2 1126.7 336.1 1120.0 334.9C1106.7 332.3 1093.4 329.2 1080.0 327.2C1063.4 324.9 1046.7 323.6 1030.0 322.1C1013.4 320.6 996.7 319.3 980.0 318.1C963.3 317.0 946.7 316.0 930.0 315.2C913.3 314.5 896.7 313.6 880.0 313.4C861.7 313.1 843.3 313.2 825.0 313.6C815.6 313.8 806.1 314.4 796.7 315.1C788.8 315.7 781.0 316.4 773.2 317.6C768.3 318.4 763.3 319.3 758.8 321.0C755.4 322.3 752.1 324.3 749.4 326.8C746.9 329.0 744.8 332.1 743.1 335.1C741.2 338.5 739.7 342.3 738.5 346.0C737.1 350.1 736.1 354.3 735.4 358.5C734.1 365.6 733.2 372.8 732.4 380.0C731.5 388.3 730.8 396.7 730.1 405.0C728.9 420.0 727.7 435.0 726.5 450.0C725.7 460.0 725.0 470.0 724.3 480.0C723.4 494.2 722.7 508.4 721.8 522.5C720.5 544.6 719.1 566.6 717.8 588.6C716.2 615.5 715.3 642.4 713.1 669.3C711.4 691.2 709.4 713.3 706.1 734.9C705.6 738.3 703.5 744.2 701.7 744.3C699.8 744.4 696.0 738.9 695.1 735.4C692.1 724.2 691.4 712.0 689.9 700.3C688.3 688.4 687.1 676.4 685.7 664.5C684.4 653.0 683.4 641.6 681.7 630.2C680.0 619.2 677.8 608.3 675.4 597.5C674.0 590.6 672.2 583.7 670.2 576.9C668.2 569.7 666.3 562.6 663.7 555.6C659.9 545.6 656.0 535.4 651.0 525.9C646.4 517.2 640.8 508.9 634.9 501.0C629.6 494.0 623.7 487.3 617.6 481.0C612.5 475.8 607.0 470.9 601.2 466.4C596.3 462.4 591.0 458.8 585.6 455.4C580.8 452.5 575.9 449.5 570.6 447.6C563.8 445.0 556.5 443.4 549.4 441.9C541.1 440.2 532.7 439.3 524.4 437.9C516.0 436.6 507.7 435.5 499.4 434.1C491.0 432.6 482.7 430.9 474.4 429.3C466.0 427.7 457.7 425.9 449.4 424.5C440.5 422.9 431.6 421.4 422.7 420.3C419.2 419.9 415.6 419.8 412.1 420.0C409.4 420.1 406.6 420.6 403.9 421.2C401.7 421.7 399.6 422.5 397.5 423.4C395.6 424.2 393.6 425.1 391.9 426.4C389.8 428.0 387.8 429.9 386.0 431.9C383.8 434.4 381.6 437.1 380.0 440.1C378.3 443.0 377.3 446.4 376.0 449.6C374.2 454.2 372.3 458.8 370.6 463.4C369.0 467.8 367.7 472.4 366.0 476.8C364.5 480.8 362.8 487.6 361.0 488.6C359.9 489.2 358.8 484.0 357.5 481.7C355.6 478.3 354.1 474.5 351.6 471.7C349.5 469.4 346.4 466.1 343.6 466.3C339.4 466.6 335.1 471.8 330.7 473.2C329.4 473.6 327.9 472.4 326.7 471.7C324.3 470.3 322.2 468.2 319.8 466.7C317.9 465.4 315.9 463.6 313.8 463.3C311.6 463.0 308.8 463.6 306.8 464.8C304.1 466.4 301.6 469.0 299.9 471.7C297.0 476.3 295.2 481.6 292.9 486.6L287.2 506.0L287.2 506.0C287.2 501.9 287.0 497.8 287.2 493.8C287.8 480.8 288.7 467.9 289.5 455.0C290.2 444.5 291.0 433.9 291.7 423.4C292.2 415.6 292.8 407.8 293.3 400.0C293.8 392.7 294.2 385.3 294.9 378.0C295.5 371.8 296.4 365.6 297.3 359.5C298.7 350.2 299.0 340.5 301.9 331.6C304.4 323.9 309.1 314.6 313.4 309.8C314.4 308.6 316.7 312.2 317.9 313.7C319.8 316.1 321.1 319.0 322.8 321.7C324.4 324.3 325.9 327.2 327.8 329.6C329.2 331.5 330.9 333.4 332.8 334.6C334.8 335.9 337.3 336.9 339.7 337.1C342.3 337.3 345.1 336.4 347.7 335.6C350.8 334.6 354.0 333.4 356.6 331.6C359.6 329.5 362.3 326.6 364.6 323.7C367.3 320.3 369.2 316.4 371.5 312.7C373.2 310.1 374.6 307.2 376.5 304.8C377.4 303.6 378.9 301.7 380.0 301.8C381.2 302.0 382.8 304.1 383.5 305.7C385.6 310.8 386.9 316.4 388.3 321.8C389.8 327.5 390.9 333.4 392.3 339.1C393.7 344.7 395.0 350.4 396.8 355.8C398.1 359.7 399.6 363.7 401.7 367.2C403.3 369.7 405.4 372.0 407.7 374.0C410.3 376.1 413.1 378.2 416.2 379.5C420.3 381.3 424.8 382.4 429.2 383.3C432.8 384.1 436.5 384.4 440.2 384.6C445.1 384.9 450.2 384.7 455.2 384.6C466.8 384.3 478.4 383.9 490.0 383.4C506.7 382.6 523.3 381.7 540.0 380.8C556.7 379.9 573.3 379.1 590.0 378.1C606.7 377.1 623.4 376.9 640.0 374.9C652.6 373.4 665.1 370.7 677.5 367.9C681.8 366.9 685.9 365.1 690.0 363.4C693.5 362.0 697.1 360.4 700.4 358.5C704.9 356.0 709.7 353.7 713.6 350.4C717.7 346.9 721.2 342.4 724.4 338.1C727.9 333.5 731.0 328.5 733.9 323.5C736.9 318.5 739.6 313.2 742.3 308.1C744.7 303.6 747.0 299.1 749.2 294.6C751.6 289.7 753.9 284.8 756.1 280.0C758.7 274.3 761.3 268.6 763.8 263.0C766.0 258.3 768.2 253.7 770.3 249.1C772.2 244.9 774.1 240.6 776.0 236.4C778.3 231.1 780.7 225.8 783.0 220.5C785.5 214.8 788.0 209.2 790.5 203.5C793.0 197.9 795.4 192.3 798.1 186.8C800.4 182.0 802.7 177.1 805.5 172.5C808.2 167.9 811.0 163.2 814.5 159.1C818.2 154.9 822.3 150.3 827.0 147.6C831.2 145.2 836.6 143.9 841.3 143.8C844.8 143.7 848.5 145.3 851.5 147.0C854.7 148.7 857.3 151.6 859.9 154.2C862.2 156.4 864.3 158.9 866.3 161.4C870.1 165.8 873.6 170.4 877.4 174.9C882.0 180.3 886.6 185.6 891.3 190.9C894.1 194.1 897.0 197.2 899.8 200.3C902.1 202.8 904.4 205.3 906.8 207.8C909.1 210.3 911.5 212.8 913.9 215.2C916.2 217.4 918.5 219.6 920.9 221.7C923.1 223.6 925.3 225.6 927.8 227.1C932.3 230.0 936.9 232.8 941.7 235.0C946.2 237.0 951.0 238.4 955.7 239.8C960.3 241.1 964.9 242.3 969.6 243.1C978.8 244.8 988.1 246.4 997.4 247.3C1011.6 248.8 1025.8 249.8 1040.0 250.4C1055.8 251.2 1071.7 251.4 1087.5 251.5C1102.0 251.7 1116.5 251.8 1131.0 251.6C1141.5 251.3 1152.1 251.5 1162.4 250.0C1167.0 249.4 1171.7 247.7 1175.6 245.3C1179.3 243.1 1182.6 239.6 1185.2 236.0C1188.4 231.4 1190.9 226.2 1193.1 221.0C1196.0 213.8 1198.0 206.2 1200.3 198.7C1202.6 190.8 1204.8 183.0 1206.7 175.0C1209.6 162.8 1212.0 150.5 1214.8 138.2C1217.4 127.0 1220.0 115.8 1222.8 104.7C1225.3 94.4 1227.8 84.1 1230.8 73.9C1234.2 62.2 1238.2 50.6 1241.9 38.9" stroke="#008000" stroke-width="4"/>
<path d="M1244.5 37.5C1244.3 46.7 1244.4 55.8 1244.0 65.0C1243.6 73.9 1242.9 82.9 1242.0 91.8C1241.0 102.8 1239.6 113.7 1238.2 124.7C1237.0 133.5 1235.7 142.2 1234.4 151.0C1232.4 163.9 1230.4 176.8 1228.2 189.7C1225.2 206.4 1221.9 223.1 1218.6 239.7C1216.9 248.1 1215.2 256.6 1213.0 264.9C1211.0 273.0 1208.5 280.9 1206.0 288.9C1204.1 295.1 1201.9 301.3 1199.7 307.4C1198.0 312.0 1196.2 316.6 1194.3 321.1C1192.4 325.6 1190.8 330.2 1188.3 334.3C1186.6 337.2 1184.4 340.0 1181.8 342.0C1179.6 343.7 1176.7 344.8 1174.0 345.6C1171.9 346.2 1169.6 346.3 1167.5 346.1C1164.3 345.7 1161.1 344.6 1157.9 343.8C1151.9 342.3 1146.0 340.7 1140.0 339.4C1133.4 337.9 1126.7 336.8 1120.0 335.5C1106.7 333.0 1093.4 329.9 1080.0 328.0C1063.4 325.7 1046.7 324.5 1030.0 323.0C1013.3 321.5 996.7 320.2 980.0 319.0C963.3 317.8 946.7 316.8 930.0 316.0C913.3 315.2 896.7 314.3 880.0 314.0C861.7 313.7 843.3 313.9 825.0 314.4C815.9 314.6 806.8 315.2 797.7 315.9C789.8 316.6 781.9 317.4 774.1 318.7C769.4 319.5 764.6 320.4 760.2 322.2C756.8 323.5 753.5 325.6 750.8 328.0C748.2 330.3 746.2 333.3 744.5 336.3C742.6 339.7 741.1 343.5 739.8 347.2C738.5 351.3 737.5 355.5 736.7 359.7C735.5 366.4 734.5 373.2 733.8 380.0C732.8 388.3 732.2 396.7 731.5 405.0C730.3 420.0 729.2 435.0 728.0 450.0C727.2 460.0 726.4 470.0 725.8 480.0C724.8 494.7 724.1 509.4 723.2 524.0C721.9 546.3 720.4 568.6 719.1 590.9C717.4 620.9 716.5 651.0 714.1 681.0C712.3 705.0 710.1 729.3 706.5 753.0C706.0 756.4 703.6 762.1 701.8 762.2C700.0 762.3 696.6 756.9 695.8 753.6C692.8 741.6 692.1 728.7 690.5 716.2C688.9 703.4 687.6 690.5 686.2 677.6C684.9 664.8 684.0 651.9 682.2 639.2C680.7 627.7 678.5 616.3 676.2 605.0C674.8 597.4 673.0 589.9 671.0 582.5C669.0 574.8 666.9 567.0 664.2 559.5C660.6 549.3 656.8 539.1 652.0 529.5C647.6 520.6 642.2 512.1 636.5 504.0C631.4 496.8 625.6 489.9 619.5 483.5C614.4 478.1 608.7 473.2 603.0 468.5C598.1 464.5 592.9 460.6 587.5 457.2C582.7 454.2 577.7 451.3 572.5 449.2C566.1 446.7 559.3 444.9 552.5 443.4C544.3 441.6 535.8 440.5 527.5 439.1C519.2 437.8 510.8 436.7 502.5 435.3C494.1 433.9 485.8 432.3 477.5 430.6C469.2 429.0 460.9 427.1 452.5 425.6C442.8 423.7 433.1 421.8 423.3 420.6C419.8 420.1 416.1 420.1 412.6 420.3C409.7 420.5 406.7 421.0 403.9 421.6C401.7 422.2 399.6 423.1 397.5 424.0C395.6 424.9 393.6 425.9 391.9 427.2C389.7 428.9 387.7 430.8 386.0 432.9C383.8 435.6 381.7 438.5 380.0 441.5C378.3 444.7 377.2 448.3 375.8 451.7C374.0 456.4 372.1 461.0 370.4 465.8C368.9 470.2 367.7 474.8 366.0 479.2C364.4 483.4 362.5 489.9 360.5 491.6C359.6 492.3 358.5 488.2 357.5 486.6C355.6 483.6 354.0 480.3 351.6 477.7C349.3 475.2 346.4 470.8 343.6 471.2C338.8 471.8 333.8 478.3 328.7 480.7C327.8 481.1 326.6 480.3 325.7 479.7C323.6 478.3 321.9 476.2 319.8 474.7C317.6 473.2 315.3 471.1 312.8 470.7C310.6 470.4 307.8 471.5 305.8 472.7C303.5 474.1 301.3 476.3 299.9 478.7C297.0 483.4 295.2 488.9 292.9 494.0L287.0 514.0L287.0 514.0C286.9 507.2 286.4 500.5 286.6 493.8C287.0 480.8 288.1 467.9 288.9 455.0C289.6 444.5 290.4 433.9 291.1 423.4C291.6 415.6 292.2 407.8 292.7 400.0C293.2 392.7 293.6 385.3 294.3 378.0C294.9 371.8 295.8 365.6 296.7 359.5C298.1 350.2 298.4 340.5 301.3 331.6C304.6 321.6 310.2 309.8 315.4 302.8C316.4 301.5 318.6 305.3 319.9 306.8C321.7 308.9 323.2 311.4 324.8 313.7C326.5 316.0 327.9 318.6 329.8 320.7C331.2 322.3 332.9 323.8 334.8 324.7C337.2 325.8 340.0 326.4 342.7 326.7C346.0 327.1 349.5 327.3 352.7 326.7C355.1 326.3 357.6 325.1 359.6 323.7C362.2 321.8 364.5 319.2 366.6 316.7C368.8 313.9 370.6 310.8 372.5 307.8C374.2 305.2 375.6 302.3 377.5 299.8C378.1 299.0 379.2 297.6 380.0 297.8C381.2 298.1 382.9 300.0 383.5 301.5C385.7 306.7 387.1 312.5 388.5 318.0C390.1 324.0 391.1 330.1 392.6 336.1C394.1 342.1 395.6 348.1 397.6 353.9C399.0 358.0 400.5 362.2 402.7 365.9C404.3 368.7 406.6 371.1 409.0 373.2C411.8 375.6 414.8 377.8 418.2 379.3C422.3 381.1 426.9 382.0 431.4 383.0C434.9 383.7 438.5 384.1 442.1 384.3C447.3 384.5 452.5 384.4 457.7 384.2C468.5 384.0 479.2 383.5 490.0 383.0C506.7 382.2 523.3 381.2 540.0 380.4C556.7 379.5 573.3 378.6 590.0 377.7C606.7 376.7 623.4 376.4 640.0 374.5C652.6 373.0 665.1 370.3 677.5 367.6C681.8 366.7 685.9 365.0 690.0 363.5C693.6 362.2 697.1 360.8 700.5 359.0C705.2 356.6 710.1 354.3 714.1 351.0C718.3 347.5 721.8 343.0 725.1 338.7C728.7 334.1 731.7 329.1 734.6 324.1C737.7 319.0 740.4 313.6 743.2 308.3C745.4 304.0 747.5 299.8 749.6 295.4C752.0 290.4 754.2 285.4 756.5 280.3C759.1 274.5 761.5 268.6 764.0 262.7C766.1 258.1 768.1 253.5 770.1 248.8C772.0 244.5 773.8 240.2 775.6 235.9C777.8 230.5 780.1 225.2 782.3 219.8C784.7 214.0 787.1 208.1 789.6 202.3C792.1 196.4 794.5 190.4 797.2 184.5C799.6 179.3 802.0 174.1 804.8 169.2C807.5 164.2 810.4 159.1 814.0 154.8C817.9 150.0 822.2 145.0 827.4 141.9C831.9 139.3 837.8 137.9 843.0 137.6C846.3 137.4 850.0 138.9 852.9 140.5C855.9 142.1 858.5 144.8 861.0 147.2C863.2 149.3 865.2 151.7 867.2 154.1C870.7 158.1 874.0 162.4 877.4 166.5C882.0 172.0 886.6 177.4 891.3 182.8C894.1 186.0 896.9 189.2 899.7 192.4C902.1 195.1 904.4 197.7 906.7 200.4C909.1 203.0 911.5 205.6 913.9 208.2C916.2 210.6 918.5 212.9 920.9 215.1C923.1 217.2 925.3 219.3 927.8 221.0C932.3 224.1 936.9 227.0 941.7 229.4C946.2 231.6 951.0 233.1 955.7 234.6C960.3 236.1 964.9 237.4 969.6 238.3C978.8 240.2 988.1 242.0 997.4 243.1C1011.5 244.7 1025.8 245.8 1040.0 246.5C1055.8 247.3 1071.7 247.5 1087.5 247.7C1102.0 247.9 1116.5 248.1 1131.0 247.8C1141.3 247.6 1151.8 247.6 1161.9 246.2C1166.4 245.6 1171.0 244.0 1174.8 241.8C1178.5 239.7 1181.7 236.5 1184.3 233.2C1187.4 229.2 1190.0 224.7 1192.0 220.1C1194.8 213.8 1196.8 207.2 1198.9 200.7C1201.2 193.2 1203.5 185.6 1205.4 178.0C1208.5 164.9 1211.0 151.7 1213.9 138.6C1216.5 126.8 1219.2 115.1 1222.0 103.4C1224.6 92.3 1227.1 81.1 1230.1 70.0C1233.5 57.5 1237.4 45.1 1241.1 32.7" stroke="#000080" stroke-width="4"/>
<path d="M1244.5 26.9C1244.3 36.7 1244.3 46.5 1243.9 56.2C1243.4 65.9 1242.6 75.6 1241.7 85.2C1240.5 97.1 1239.2 109.0 1237.7 120.9C1236.5 130.0 1235.2 139.1 1233.8 148.2C1231.6 162.1 1229.3 175.9 1226.9 189.7C1224.1 206.4 1221.2 223.1 1218.0 239.8C1216.5 248.1 1214.7 256.4 1212.7 264.7C1210.7 272.7 1208.3 280.6 1205.9 288.6C1204.0 294.8 1201.9 301.1 1199.8 307.2C1198.2 311.9 1196.6 316.5 1194.8 321.1C1192.9 325.7 1191.2 330.4 1188.8 334.6C1187.1 337.5 1184.9 340.4 1182.4 342.4C1180.3 344.2 1177.4 345.4 1174.8 346.2C1172.7 346.8 1170.5 347.1 1168.4 346.9C1164.9 346.5 1161.4 345.2 1157.9 344.4C1151.9 343.0 1146.0 341.3 1140.0 340.0C1133.4 338.6 1126.7 337.4 1120.0 336.1C1106.7 333.6 1093.4 330.6 1080.0 328.8C1063.4 326.5 1046.7 325.4 1030.0 323.9C1013.3 322.4 996.7 321.1 980.0 319.9C963.3 318.7 946.7 317.6 930.0 316.8C913.3 315.9 896.7 314.9 880.0 314.6C861.7 314.3 843.3 314.7 825.0 315.2C816.2 315.4 807.4 316.0 798.7 316.8C790.8 317.5 782.9 318.4 775.1 319.8C770.5 320.6 765.8 321.6 761.5 323.4C758.1 324.8 754.8 326.8 752.1 329.2C749.6 331.5 747.6 334.5 745.9 337.5C743.9 340.9 742.5 344.6 741.2 348.4C739.9 352.4 738.9 356.7 738.1 360.9C736.9 367.2 735.8 373.6 735.1 380.0C734.1 388.3 733.5 396.7 732.9 405.0C731.7 420.0 730.6 435.0 729.5 450.0C728.7 460.0 727.8 470.0 727.2 480.0C726.2 495.2 725.6 510.4 724.7 525.5C723.3 548.1 721.7 570.7 720.5 593.2C718.6 626.6 717.7 660.0 715.2 693.3C713.2 719.7 710.8 746.3 706.9 772.3C706.4 775.7 703.7 781.3 701.9 781.4C700.2 781.5 697.2 776.2 696.4 773.0C693.6 760.1 692.7 746.4 691.1 733.0C689.5 719.1 688.2 705.1 686.8 691.1C685.4 676.8 684.6 662.5 682.8 648.3C681.3 636.3 679.2 624.4 677.1 612.5C675.6 604.3 673.8 596.2 671.8 588.1C669.7 579.8 667.6 571.5 664.8 563.4C661.3 553.1 657.6 542.9 653.0 533.1C648.7 524.1 643.7 515.3 638.1 507.0C633.2 499.6 627.4 492.6 621.4 486.0C616.3 480.5 610.5 475.5 604.8 470.6C599.9 466.5 594.7 462.5 589.4 459.1C584.6 456.0 579.6 453.1 574.4 450.9C568.3 448.4 562.0 446.4 555.6 444.9C547.4 442.9 539.0 441.8 530.6 440.4C522.3 439.0 513.9 437.9 505.6 436.6C497.3 435.2 488.9 433.6 480.6 432.0C472.3 430.3 464.0 428.2 455.6 426.6C445.3 424.6 434.9 422.5 424.5 421.1C420.9 420.7 417.1 420.7 413.5 421.0C410.3 421.2 407.0 421.7 403.9 422.6C401.7 423.2 399.6 424.2 397.5 425.3C395.6 426.3 393.6 427.3 391.9 428.8C389.7 430.6 387.7 432.8 386.0 435.1C383.8 438.0 381.7 441.1 380.0 444.4C378.1 448.1 376.9 452.0 375.4 455.9C373.6 460.7 371.8 465.6 370.2 470.5C368.7 475.0 367.6 479.7 365.8 484.1C364.0 488.7 361.6 495.9 359.5 497.6C358.5 498.4 357.6 493.5 356.5 491.6C355.0 488.9 353.6 486.0 351.6 483.6C349.3 480.7 346.5 475.2 343.6 475.7C338.5 476.7 333.1 484.8 327.7 488.1C326.8 488.6 325.6 487.7 324.7 487.1C322.6 485.7 320.9 483.6 318.8 482.2C316.3 480.5 313.6 478.3 310.8 477.7C309.0 477.3 306.5 478.2 304.9 479.2C302.9 480.5 301.1 482.5 299.9 484.6C297.1 489.7 295.2 495.5 292.9 501.0L286.9 521.0L286.9 521.0C286.7 519.0 286.4 517.0 286.3 515.0C286.1 507.9 285.8 500.8 286.0 493.8C286.4 480.8 287.4 467.9 288.2 455.0C288.9 444.5 289.7 433.9 290.4 423.4C290.9 415.6 291.5 407.8 292.0 400.0C292.5 392.7 292.9 385.3 293.6 378.0C294.2 371.8 295.1 365.6 296.0 359.5C297.4 350.2 298.9 340.9 300.6 331.6C301.8 324.9 301.8 317.6 304.6 311.7C307.4 306.0 312.9 299.9 317.4 296.8C318.6 296.0 320.5 298.6 321.8 299.8C323.7 301.6 325.1 303.8 326.8 305.8C328.8 308.1 330.5 310.7 332.8 312.7C334.5 314.2 336.5 315.6 338.7 316.2C341.8 317.1 345.4 317.1 348.7 317.2C352.0 317.3 355.4 317.4 358.6 316.7C360.7 316.2 362.8 315.0 364.6 313.7C366.8 312.1 368.9 310.0 370.5 307.8C372.5 305.1 373.7 301.7 375.5 298.8C376.7 296.9 378.0 293.7 379.5 293.4C380.7 293.1 382.8 295.4 383.5 297.0C385.9 302.3 387.2 308.3 388.7 314.0C390.4 320.3 391.4 326.7 393.0 333.0C394.6 339.3 396.3 345.7 398.4 351.9C399.9 356.2 401.4 360.7 403.7 364.7C405.4 367.5 407.8 370.2 410.4 372.4C413.3 374.9 416.6 377.4 420.2 379.0C424.4 380.8 429.1 381.7 433.7 382.6C437.1 383.4 440.6 383.8 444.1 383.9C449.5 384.2 454.9 384.0 460.3 383.8C470.2 383.6 480.1 383.0 490.0 382.6C506.7 381.7 523.3 380.8 540.0 380.0C556.7 379.1 573.3 378.3 590.0 377.3C606.7 376.3 623.4 375.9 640.0 374.0C652.6 372.6 665.1 369.9 677.5 367.3C681.8 366.4 685.9 365.0 690.0 363.6C693.6 362.4 697.2 361.2 700.6 359.5C705.4 357.2 710.5 354.9 714.6 351.6C718.9 348.1 722.4 343.6 725.8 339.2C729.4 334.6 732.4 329.6 735.3 324.7C738.5 319.4 741.2 313.9 744.0 308.4C746.0 304.4 748.0 300.4 749.9 296.3C752.3 291.1 754.6 285.9 756.8 280.7C759.3 274.7 761.7 268.6 764.2 262.5C766.1 257.8 768.1 253.2 770.0 248.5C771.7 244.2 773.5 239.8 775.2 235.4C777.3 230.0 779.5 224.6 781.6 219.1C784.0 213.1 786.3 207.1 788.7 201.1C791.3 194.8 793.7 188.5 796.4 182.3C798.8 176.8 801.2 171.2 804.1 165.9C806.9 160.7 809.8 155.2 813.5 150.6C817.6 145.4 822.2 139.9 827.7 136.5C832.5 133.6 839.0 132.1 844.6 131.7C847.8 131.4 851.4 132.8 854.3 134.3C857.1 135.8 859.5 138.3 861.9 140.5C864.1 142.5 866.0 144.8 868.0 147.1C871.2 150.8 874.2 154.7 877.4 158.5C882.0 164.0 886.7 169.5 891.3 175.1C894.1 178.4 896.9 181.6 899.7 184.9C902.0 187.7 904.3 190.5 906.7 193.2C909.1 196.0 911.4 198.8 913.9 201.5C916.2 204.0 918.5 206.5 920.9 208.9C923.1 211.0 925.3 213.3 927.8 215.1C932.2 218.4 936.8 221.5 941.7 224.1C946.1 226.4 951.0 228.1 955.7 229.7C960.3 231.3 964.9 232.7 969.6 233.7C978.8 235.8 988.1 237.8 997.4 239.0C1011.5 240.8 1025.8 242.0 1040.0 242.8C1055.8 243.7 1071.7 243.8 1087.5 244.0C1102.0 244.3 1116.5 244.6 1131.0 244.3C1141.2 244.1 1151.4 243.9 1161.4 242.5C1165.8 241.9 1170.3 240.4 1174.2 238.3C1177.7 236.4 1180.9 233.5 1183.5 230.5C1186.5 227.1 1189.0 223.2 1191.1 219.2C1193.7 213.9 1195.6 208.2 1197.5 202.6C1200.0 195.4 1202.4 188.2 1204.2 180.8C1207.5 167.0 1210.0 152.9 1213.0 138.9C1215.7 126.7 1218.4 114.4 1221.2 102.2C1223.9 90.2 1226.5 78.2 1229.5 66.3C1232.8 53.1 1236.7 39.9 1240.3 26.7" stroke="#8000ff" stroke-width="4"/>
<path d="M1244.5 16.2C1244.2 26.7 1244.3 37.1 1243.8 47.5C1243.2 57.9 1242.3 68.3 1241.3 78.7C1240.1 91.5 1238.8 104.3 1237.2 117.1C1236.1 126.6 1234.6 136.0 1233.1 145.5C1230.8 160.3 1228.2 175.0 1225.7 189.7C1223.0 206.4 1220.5 223.2 1217.5 239.8C1216.0 248.1 1214.3 256.3 1212.3 264.4C1210.4 272.4 1208.1 280.4 1205.8 288.3C1204.0 294.6 1202.0 300.8 1200.0 307.1C1198.5 311.8 1197.0 316.5 1195.2 321.1C1193.4 325.8 1191.6 330.6 1189.2 334.9C1187.6 337.8 1185.5 340.7 1183.0 342.9C1180.9 344.7 1178.1 345.9 1175.5 346.8C1173.5 347.5 1171.3 347.9 1169.2 347.6C1165.4 347.3 1161.7 345.9 1157.9 345.0C1151.9 343.6 1146.0 342.0 1140.0 340.7C1133.4 339.2 1126.7 338.0 1120.0 336.8C1106.7 334.3 1093.4 331.3 1080.0 329.5C1063.4 327.3 1046.7 326.2 1030.0 324.8C1013.3 323.3 996.7 322.0 980.0 320.8C963.3 319.5 946.7 318.4 930.0 317.5C913.3 316.6 896.7 315.5 880.0 315.2C861.7 315.0 843.3 315.4 825.0 315.9C816.5 316.2 808.1 316.8 799.6 317.7C791.8 318.5 783.8 319.4 776.1 320.9C771.6 321.7 767.0 322.8 762.9 324.5C759.5 326.0 756.2 328.1 753.5 330.5C751.0 332.8 748.9 335.7 747.2 338.6C745.3 342.1 743.8 345.8 742.6 349.5C741.2 353.6 740.3 357.8 739.5 362.0C738.3 368.0 737.1 374.0 736.4 380.0C735.4 388.3 734.9 396.7 734.2 405.0C733.1 420.0 732.1 435.0 731.0 450.0C730.2 460.0 729.3 470.0 728.6 480.0C727.6 495.7 727.0 511.3 726.1 527.0C724.8 549.8 723.1 572.6 721.8 595.4C719.8 631.7 719.0 668.1 716.2 704.4C714.1 732.7 711.5 761.2 707.2 789.0C706.7 792.4 703.8 797.9 702.0 798.0C700.4 798.1 697.8 792.9 697.1 789.8C694.3 776.3 693.3 762.1 691.8 748.2C690.1 733.4 688.7 718.6 687.4 703.8C685.9 688.2 685.1 672.6 683.4 657.1C682.0 644.7 680.0 632.3 677.9 620.0C676.4 611.2 674.6 602.4 672.5 593.8C670.4 584.9 668.2 575.9 665.4 567.2C662.0 556.9 658.4 546.6 654.0 536.8C649.9 527.5 645.2 518.5 639.8 510.0C634.9 502.4 629.2 495.2 623.2 488.5C618.2 482.8 612.3 477.8 606.5 472.8C601.6 468.5 596.6 464.4 591.2 460.9C586.5 457.7 581.4 454.9 576.2 452.6C570.6 450.1 564.7 447.9 558.8 446.4C550.6 444.2 542.1 443.0 533.8 441.6C525.4 440.2 517.1 439.2 508.8 437.8C500.4 436.4 492.0 435.0 483.8 433.3C475.4 431.6 467.1 429.4 458.8 427.7C447.7 425.4 436.5 423.1 425.3 421.5C421.6 421.0 417.8 421.1 414.1 421.4C410.7 421.7 407.2 422.3 403.9 423.2C401.7 423.8 399.5 425.0 397.5 426.1C395.5 427.2 393.5 428.3 391.9 429.8C389.7 431.7 387.7 434.0 386.0 436.4C383.8 439.5 381.7 442.8 380.0 446.3C378.1 450.2 376.7 454.5 375.2 458.6C373.3 463.6 371.7 468.6 370.0 473.6C368.5 478.1 367.5 482.8 365.8 487.3C363.8 492.1 361.3 499.6 359.0 501.5C358.0 502.3 357.1 497.4 356.0 495.5C354.7 493.3 353.3 491.0 351.6 489.0C349.1 486.1 346.4 480.0 343.6 480.7C338.1 482.2 332.5 491.5 326.7 495.6C325.9 496.2 324.5 495.2 323.7 494.6C321.5 492.9 320.0 490.3 317.8 488.6C315.4 486.7 312.6 484.2 309.8 483.6C308.0 483.2 305.5 484.4 303.9 485.6C302.2 486.8 300.8 488.7 299.9 490.6C297.2 496.2 295.2 502.2 292.9 508.0L286.7 528.0L286.7 528.0C286.5 523.7 286.3 519.3 286.1 515.0C285.9 507.9 285.6 500.8 285.8 493.8C286.1 480.8 287.1 467.9 287.9 455.0C288.5 444.5 289.4 433.9 290.1 423.4C290.6 415.6 291.2 407.8 291.7 400.0C292.2 392.7 292.6 385.3 293.3 378.0C293.9 371.8 294.8 365.6 295.7 359.5C297.1 350.2 298.6 340.9 300.3 331.6C301.5 324.9 301.5 317.7 304.3 311.7C307.7 304.3 313.5 296.4 318.9 291.4C320.0 290.3 322.4 292.4 323.8 293.4C325.7 294.8 327.1 297.0 328.8 298.8C330.8 300.8 332.6 303.1 334.8 304.8C336.2 305.9 338.0 306.8 339.7 307.3C342.9 308.2 346.4 308.2 349.7 308.8C352.7 309.4 355.6 310.7 358.6 310.8C360.6 310.9 362.9 310.3 364.6 309.3C366.8 308.0 368.8 305.9 370.5 303.8C372.5 301.4 373.7 298.4 375.5 295.8C376.7 293.9 378.0 290.7 379.5 290.4C380.7 290.1 382.8 292.4 383.5 294.0C385.9 299.4 387.3 305.5 388.8 311.3C390.6 317.8 391.6 324.4 393.3 330.9C395.0 337.5 396.7 344.0 398.9 350.4C400.5 355.0 402.1 359.7 404.4 363.8C406.2 366.8 408.7 369.5 411.3 371.8C414.4 374.5 417.9 377.1 421.6 378.8C425.9 380.6 430.6 381.5 435.2 382.4C438.6 383.1 442.1 383.6 445.6 383.7C451.1 383.9 456.6 383.8 462.2 383.6C471.4 383.2 480.7 382.6 490.0 382.1C506.7 381.3 523.3 380.4 540.0 379.5C556.7 378.7 573.3 377.8 590.0 376.8C606.7 375.8 623.4 375.4 640.0 373.5C652.6 372.1 665.1 369.5 677.5 367.1C681.7 366.2 685.9 364.9 690.0 363.7C693.6 362.6 697.3 361.6 700.8 360.0C705.7 357.7 710.8 355.5 715.0 352.2C719.4 348.8 723.1 344.2 726.6 339.7C730.1 335.2 733.1 330.2 736.1 325.2C739.2 319.9 742.0 314.2 744.8 308.6C746.7 304.9 748.6 301.0 750.3 297.2C752.7 291.8 754.9 286.5 757.1 281.1C759.6 274.8 762.0 268.5 764.4 262.2C766.2 257.6 768.0 252.9 769.8 248.2C771.5 243.8 773.1 239.3 774.8 234.9C776.8 229.4 778.9 223.9 780.9 218.4C783.2 212.3 785.5 206.1 787.8 199.9C790.4 193.3 792.8 186.6 795.6 180.0C798.0 174.1 800.5 168.2 803.4 162.6C806.3 157.0 809.2 151.2 813.0 146.2C817.4 140.6 822.1 134.5 828.0 130.9C833.2 127.6 840.2 126.1 846.3 125.5C849.4 125.1 852.8 126.5 855.7 127.9C858.4 129.2 860.7 131.5 863.0 133.5C865.1 135.4 866.9 137.6 868.8 139.8C871.8 143.1 874.5 146.7 877.4 150.1C882.0 155.7 886.7 161.3 891.3 166.9C894.1 170.3 896.9 173.7 899.6 177.1C902.0 180.0 904.3 182.9 906.6 185.7C909.0 188.7 911.4 191.7 913.9 194.6C916.2 197.2 918.5 199.8 920.9 202.3C923.1 204.6 925.3 207.0 927.8 209.0C932.2 212.4 936.8 215.8 941.7 218.5C946.1 221.0 950.9 222.8 955.7 224.5C960.2 226.2 964.9 227.8 969.6 228.9C978.8 231.2 988.0 233.5 997.4 234.8C1011.5 236.8 1025.8 238.0 1040.0 238.9C1055.8 239.8 1071.7 239.9 1087.5 240.2C1102.0 240.5 1116.5 240.9 1131.0 240.6C1141.0 240.3 1151.1 240.0 1161.0 238.7C1165.3 238.1 1169.6 236.6 1173.4 234.7C1176.8 233.0 1179.9 230.3 1182.7 227.6C1185.5 224.9 1188.1 221.7 1190.0 218.3C1192.5 214.0 1194.4 209.2 1196.1 204.5C1198.6 197.7 1201.1 190.8 1202.9 183.8C1206.5 169.1 1208.9 154.1 1212.1 139.3C1214.8 126.5 1217.6 113.7 1220.4 100.9C1223.2 88.1 1225.8 75.2 1228.8 62.5C1232.2 48.4 1236.0 34.5 1239.6 20.5" stroke="#800080" stroke-width="4"/>
<path d="M1244.5 5.6C1244.2 16.7 1244.2 27.7 1243.6 38.8C1243.0 49.9 1242.0 61.0 1241.0 72.1C1239.7 85.9 1238.4 99.6 1236.8 113.2C1235.6 123.1 1234.0 132.9 1232.5 142.8C1229.9 158.4 1227.0 174.0 1224.5 189.7C1221.8 206.4 1219.8 223.2 1217.0 239.9C1215.6 248.1 1213.8 256.1 1212.0 264.2C1210.1 272.2 1207.9 280.1 1205.7 288.0C1204.0 294.3 1202.1 300.6 1200.1 306.9C1198.7 311.7 1197.4 316.5 1195.6 321.1C1193.9 325.9 1192.1 330.7 1189.6 335.2C1188.0 338.2 1186.0 341.1 1183.6 343.4C1181.6 345.2 1178.8 346.4 1176.2 347.4C1174.3 348.1 1172.2 348.6 1170.1 348.4C1166.0 348.0 1162.0 346.6 1157.9 345.6C1151.9 344.2 1146.0 342.6 1140.0 341.3C1133.4 339.9 1126.7 338.6 1120.0 337.4C1106.7 334.9 1093.4 332.0 1080.0 330.2C1063.4 328.1 1046.7 327.1 1030.0 325.6C1013.3 324.2 996.7 322.9 980.0 321.6C963.3 320.4 946.7 319.2 930.0 318.2C913.3 317.3 896.7 316.1 880.0 315.9C861.7 315.6 843.3 316.1 825.0 316.7C816.9 317.0 808.7 317.7 800.6 318.5C792.7 319.4 784.8 320.4 777.0 321.9C772.7 322.8 768.3 323.9 764.2 325.7C760.9 327.2 757.6 329.3 754.9 331.8C752.4 334.0 750.3 336.9 748.6 339.8C746.7 343.2 745.2 347.0 743.9 350.7C742.6 354.8 741.7 359.0 740.8 363.2C739.6 368.8 738.4 374.4 737.7 380.0C736.7 388.3 736.2 396.7 735.6 405.0C734.5 420.0 733.6 435.0 732.5 450.0C731.8 460.0 730.7 470.0 730.1 480.0C729.0 496.2 728.5 512.4 727.6 528.5C726.2 551.6 724.4 574.7 723.2 597.8C721.0 637.4 720.2 677.0 717.3 716.6C715.0 747.2 712.1 778.1 707.6 808.2C707.1 811.5 704.0 816.8 702.3 817.0C700.8 817.1 698.4 812.0 697.8 809.1C695.1 794.6 694.0 779.6 692.4 764.8C690.7 749.0 689.3 733.1 687.9 717.3C686.5 700.3 685.7 683.2 683.9 666.2C682.6 653.2 680.7 640.3 678.7 627.5C677.2 618.1 675.4 608.7 673.2 599.4C671.1 589.9 668.8 580.4 665.9 571.1C662.7 560.7 659.2 550.4 655.0 540.4C651.0 531.0 646.6 521.7 641.4 513.0C636.7 505.2 631.1 497.9 625.1 491.0C620.0 485.1 614.1 480.0 608.2 474.9C603.4 470.6 598.5 466.3 593.1 462.7C588.4 459.5 583.3 456.8 578.1 454.3C572.9 451.8 567.5 449.4 561.9 447.8C553.7 445.5 545.2 444.3 536.9 442.8C528.6 441.3 520.2 440.4 511.9 439.1C503.5 437.7 495.2 436.4 486.9 434.7C478.5 432.9 470.3 430.5 461.9 428.7C450.1 426.3 438.3 423.7 426.4 422.0C422.6 421.4 418.6 421.6 414.8 421.9C411.1 422.2 407.4 422.9 403.9 424.0C401.6 424.7 399.5 425.9 397.5 427.1C395.5 428.3 393.5 429.5 391.9 431.1C389.7 433.2 387.7 435.7 386.0 438.2C383.8 441.5 381.7 445.0 380.0 448.7C378.0 453.0 376.4 457.6 374.8 462.1C373.0 467.2 371.4 472.4 369.8 477.6C368.3 482.1 367.4 486.9 365.6 491.3C363.6 496.5 360.9 504.3 358.5 506.5C357.5 507.4 356.6 502.4 355.5 500.5C354.3 498.5 353.1 496.4 351.6 494.6C349.1 491.6 346.2 485.2 343.6 486.1C338.9 487.8 334.6 497.4 329.7 502.5C328.7 503.6 327.1 504.3 325.7 504.5C324.7 504.6 323.5 504.2 322.7 503.5C320.5 501.5 319.0 498.7 316.8 496.6C314.7 494.6 312.4 491.9 309.8 491.1C308.1 490.6 305.6 491.6 303.9 492.6C302.3 493.5 300.7 494.9 299.9 496.6C297.1 502.1 295.2 508.2 292.9 514.0L286.6 535.0L286.6 535.0C286.8 528.3 287.1 521.7 287.3 515.0C287.5 507.9 287.5 500.8 287.9 493.8C288.5 480.8 289.5 467.9 290.3 455.0C291.0 444.5 291.8 433.9 292.5 423.4C293.0 415.6 293.6 407.8 294.1 400.0C294.6 392.7 295.0 385.3 295.7 378.0C296.3 371.8 297.2 365.6 298.1 359.5C299.5 350.2 301.0 340.9 302.7 331.6C303.9 324.9 304.3 317.9 306.7 311.7C310.0 303.0 314.8 293.8 319.9 286.9C320.8 285.7 323.4 286.7 324.8 287.4C326.7 288.4 328.2 290.4 329.8 291.9C331.5 293.5 332.9 295.5 334.8 296.8C336.2 297.8 338.0 298.4 339.7 298.8C342.0 299.4 344.4 299.3 346.7 299.8C348.7 300.3 350.7 301.0 352.7 301.8C355.0 302.7 357.2 304.3 359.6 304.8C361.2 305.1 363.1 304.9 364.6 304.3C366.4 303.6 368.3 302.3 369.6 300.8C371.6 298.5 372.9 295.5 374.5 292.9C375.8 290.7 376.9 288.3 378.5 286.4C379.1 285.7 380.3 284.7 381.0 284.9C382.0 285.2 383.0 286.9 383.5 288.2C385.7 293.9 387.5 300.0 389.1 306.0C390.9 312.9 392.0 319.9 393.8 326.8C395.6 333.8 397.6 340.9 400.0 347.7C401.6 352.6 403.3 357.7 405.8 362.1C407.7 365.3 410.3 368.3 413.1 370.7C416.5 373.7 420.3 376.6 424.3 378.4C428.6 380.3 433.5 381.0 438.2 382.0C441.5 382.6 444.9 383.1 448.3 383.3C454.0 383.5 459.9 383.3 465.7 383.1C473.8 382.8 481.9 382.2 490.0 381.7C506.7 380.9 523.3 380.0 540.0 379.1C556.7 378.3 573.3 377.4 590.0 376.4C606.7 375.4 623.4 374.9 640.0 373.1C652.6 371.7 665.0 369.1 677.5 366.8C681.7 366.0 685.9 364.8 690.0 363.7C693.7 362.7 697.4 362.0 700.9 360.5C705.9 358.3 711.2 356.1 715.5 352.8C720.0 349.4 723.7 344.7 727.2 340.2C730.8 335.7 733.8 330.8 736.8 325.8C740.0 320.3 742.8 314.5 745.6 308.8C747.4 305.3 749.1 301.7 750.6 298.0C753.0 292.5 755.3 287.0 757.4 281.4C759.9 275.0 762.2 268.5 764.6 262.0C766.3 257.3 768.0 252.6 769.7 247.9C771.3 243.4 772.8 238.9 774.4 234.4C776.4 228.9 778.3 223.3 780.2 217.8C782.5 211.4 784.7 205.1 787.0 198.8C789.5 191.7 792.0 184.7 794.8 177.8C797.3 171.6 799.8 165.3 802.7 159.3C805.7 153.4 808.6 147.3 812.5 142.1C817.1 136.0 822.1 129.4 828.4 125.4C833.9 121.9 841.3 120.4 847.9 119.6C850.9 119.2 854.2 120.4 857.0 121.7C859.6 122.8 861.8 124.9 863.9 126.8C866.0 128.6 867.8 130.7 869.6 132.8C872.3 135.8 874.8 139.0 877.4 142.1C882.1 147.8 886.7 153.5 891.3 159.2C894.1 162.6 896.8 166.1 899.6 169.6C901.9 172.6 904.2 175.6 906.6 178.6C909.0 181.7 911.4 184.8 913.9 187.9C916.2 190.7 918.5 193.4 920.9 196.1C923.1 198.5 925.3 201.0 927.8 203.1C932.2 206.7 936.8 210.3 941.7 213.2C946.1 215.8 950.9 217.7 955.7 219.6C960.2 221.4 964.9 223.1 969.6 224.3C978.8 226.8 988.0 229.3 997.4 230.7C1011.5 232.9 1025.8 234.2 1040.0 235.1C1055.8 236.2 1071.7 236.2 1087.5 236.5C1102.0 236.8 1116.5 237.3 1131.0 237.0C1140.8 236.8 1150.8 236.3 1160.5 235.0C1164.7 234.4 1168.9 233.0 1172.8 231.2C1176.1 229.7 1179.1 227.3 1181.9 224.9C1184.5 222.7 1187.1 220.2 1189.1 217.4C1191.4 214.1 1193.2 210.3 1194.8 206.4C1197.4 200.0 1200.0 193.4 1201.6 186.6C1205.4 171.1 1207.9 155.3 1211.2 139.6C1213.9 126.3 1216.8 113.0 1219.6 99.7C1222.5 86.1 1225.1 72.4 1228.2 58.7C1231.5 43.9 1235.3 29.2 1238.8 14.5" stroke="#800000" stroke-width="4"/>
<path d="M1244.5 -5.0C1244.2 6.7 1244.1 18.4 1243.5 30.0C1242.8 41.9 1241.7 53.7 1240.6 65.6C1239.3 80.2 1238.0 94.8 1236.3 109.4C1235.1 119.6 1233.4 129.8 1231.8 140.0C1229.1 156.6 1225.9 173.1 1223.3 189.7C1220.7 206.4 1219.0 223.3 1216.4 240.0C1215.1 248.0 1213.4 256.0 1211.6 263.9C1209.8 271.9 1207.7 279.8 1205.6 287.7C1203.9 294.1 1202.1 300.4 1200.3 306.8C1198.9 311.6 1197.8 316.4 1196.1 321.1C1194.4 326.0 1192.5 330.9 1190.1 335.5C1188.5 338.5 1186.6 341.5 1184.2 343.8C1182.2 345.7 1179.5 347.0 1177.0 348.0C1175.1 348.8 1173.0 349.4 1171.0 349.2C1166.6 348.8 1162.3 347.2 1157.9 346.2C1151.9 344.8 1146.0 343.3 1140.0 342.0C1133.4 340.6 1126.7 339.2 1120.0 338.0C1106.7 335.6 1093.4 332.7 1080.0 331.0C1063.4 328.9 1046.7 327.9 1030.0 326.5C1013.3 325.1 996.7 323.8 980.0 322.5C963.3 321.3 946.7 320.0 930.0 319.0C913.3 318.0 896.7 316.7 880.0 316.5C861.7 316.2 843.3 316.8 825.0 317.5C817.2 317.8 809.4 318.5 801.6 319.4C793.7 320.3 785.8 321.4 778.0 323.0C773.8 323.9 769.5 325.1 765.6 326.9C762.3 328.4 759.0 330.5 756.2 333.0C753.8 335.2 751.7 338.1 750.0 341.0C748.0 344.4 746.5 348.2 745.3 351.9C743.9 356.0 743.1 360.2 742.2 364.4C741.0 369.6 739.7 374.7 739.0 380.0C737.9 388.3 737.6 396.7 737.0 405.0C735.9 420.0 735.1 435.0 734.0 450.0C733.3 460.0 732.1 470.0 731.5 480.0C730.5 496.7 730.0 513.3 729.0 530.0C727.6 553.3 725.8 576.7 724.5 600.0C722.2 642.6 721.4 685.2 718.3 727.7C715.9 760.2 712.6 793.0 708.0 825.0C707.5 828.3 704.7 833.5 703.0 833.7C701.5 833.9 699.0 828.9 698.5 826.0C695.7 811.0 694.6 795.4 693.0 780.0C691.3 763.4 689.9 746.7 688.5 730.0C687.0 711.7 686.2 693.3 684.5 675.0C683.2 661.6 681.5 648.3 679.5 635.0C678.0 624.9 676.2 614.9 674.0 605.0C671.8 594.9 669.4 584.9 666.5 575.0C663.4 564.5 660.0 554.1 656.0 544.0C652.2 534.5 648.1 524.9 643.0 516.0C638.4 508.1 632.9 500.5 627.0 493.5C621.9 487.5 615.8 482.3 610.0 477.0C605.2 472.6 600.3 468.2 595.0 464.5C590.3 461.2 585.1 458.6 580.0 456.0C575.1 453.5 570.2 450.9 565.0 449.3C556.9 446.9 548.4 445.5 540.0 444.0C531.7 442.5 523.3 441.6 515.0 440.3C506.7 439.0 498.3 437.7 490.0 436.0C481.6 434.2 473.4 431.6 465.0 429.8C452.6 427.1 440.2 424.4 427.7 422.6C423.8 422.0 419.7 422.2 415.8 422.6C411.8 423.0 407.7 423.8 403.9 425.0C401.6 425.7 399.5 427.2 397.5 428.5C395.5 429.8 393.5 431.1 391.9 432.8C389.7 435.1 387.7 437.8 386.0 440.5C383.7 444.1 381.7 447.9 380.0 451.8C377.9 456.6 376.1 461.7 374.4 466.7C372.6 472.0 371.1 477.4 369.5 482.7C368.1 487.3 366.9 492.0 365.5 496.6C364.2 500.9 363.3 505.5 361.5 509.5C360.8 511.0 359.0 513.4 358.0 513.0C356.4 512.4 354.9 508.8 353.6 506.5C351.8 503.3 350.6 499.7 348.6 496.6C347.2 494.4 345.2 490.1 343.6 490.6C340.9 491.4 338.2 497.1 335.7 500.5C333.6 503.4 332.1 506.9 329.7 509.5C328.6 510.7 326.7 512.0 325.2 512.0C323.7 512.0 322.1 510.6 320.8 509.5C318.6 507.7 317.0 505.3 314.8 503.5C313.0 502.0 310.9 500.0 308.8 499.6C307.0 499.3 304.4 500.3 302.9 501.5C300.8 503.2 299.3 506.0 297.9 508.5C296.0 512.0 294.3 515.7 292.9 519.4C291.5 523.2 290.6 527.1 289.5 531.0L286.4 542.2L286.4 542.2C287.1 533.1 287.8 524.1 288.4 515.0C288.9 507.9 289.3 500.8 289.8 493.8C290.7 480.8 291.6 467.9 292.5 455.0C293.2 444.5 294.0 433.9 294.7 423.4C295.2 415.6 295.8 407.8 296.3 400.0C296.8 392.7 297.2 385.3 297.9 378.0C298.5 371.8 299.4 365.6 300.3 359.5C301.7 350.2 303.2 340.9 304.9 331.6C306.1 324.9 307.4 318.3 308.9 311.7C310.1 306.4 310.9 300.8 312.9 295.8C314.9 290.9 317.6 285.8 320.8 281.9C321.6 280.9 323.6 280.6 324.8 280.9C326.6 281.3 328.3 282.7 329.8 283.9C331.6 285.4 332.9 287.6 334.8 288.9C336.2 289.9 338.0 290.5 339.7 290.9C342.0 291.4 344.5 290.7 346.7 291.4C348.9 292.1 350.7 293.7 352.7 294.9C354.7 296.0 356.5 297.5 358.6 298.3C360.2 298.9 362.0 299.5 363.6 299.3C365.3 299.0 367.4 298.1 368.6 296.8C370.7 294.6 372.0 291.6 373.5 288.9C375.0 286.3 375.9 283.4 377.5 280.9C378.2 279.7 379.5 278.0 380.5 278.0C381.5 278.0 383.0 279.6 383.5 280.9C385.9 286.8 387.7 293.2 389.4 299.5C391.4 306.8 392.5 314.4 394.4 321.7C396.4 329.3 398.7 336.9 401.2 344.4C403.1 349.7 404.8 355.2 407.5 360.0C409.5 363.5 412.3 366.7 415.3 369.4C419.0 372.7 423.2 375.9 427.7 377.9C432.1 379.9 437.1 380.4 441.9 381.4C445.1 382.0 448.3 382.6 451.6 382.7C457.7 382.9 463.9 382.6 470.0 382.4C476.7 382.2 483.3 381.7 490.0 381.3C506.7 380.4 523.3 379.6 540.0 378.7C556.7 377.8 573.3 377.0 590.0 376.0C606.7 375.0 623.4 374.4 640.0 372.6C652.6 371.2 665.0 368.7 677.5 366.5C681.7 365.8 685.9 364.8 690.0 363.8C693.7 362.9 697.5 362.4 701.0 361.0C706.2 358.9 711.6 356.8 716.0 353.5C720.6 350.0 724.4 345.3 728.0 340.8C731.6 336.3 734.6 331.4 737.5 326.4C740.8 320.8 743.6 314.9 746.5 309.0C748.1 305.7 749.6 302.3 751.0 298.9C753.4 293.3 755.7 287.6 757.8 281.8C760.3 275.2 762.5 268.4 764.8 261.7C766.4 257.1 767.9 252.3 769.5 247.6C771.0 243.1 772.5 238.5 774.0 233.9C775.8 228.3 777.6 222.6 779.5 217.0C781.6 210.5 783.8 204.0 786.0 197.5C788.6 190.1 791.1 182.7 793.9 175.4C796.4 168.8 799.0 162.2 802.0 155.8C805.0 149.6 807.9 143.1 812.0 137.5C816.8 131.0 822.1 123.9 828.7 119.6C834.6 115.7 842.6 114.2 849.6 113.1C852.5 112.7 855.8 113.8 858.5 115.0C860.9 116.0 863.0 117.8 865.0 119.5C867.0 121.2 868.8 123.2 870.5 125.2C872.9 127.8 875.1 130.6 877.4 133.4C882.1 139.1 886.7 144.9 891.3 150.7C894.1 154.3 896.8 157.8 899.5 161.4C901.9 164.5 904.2 167.7 906.5 170.8C909.0 174.1 911.4 177.4 913.9 180.6C916.2 183.6 918.5 186.5 920.9 189.3C923.1 191.8 925.3 194.5 927.8 196.7C932.2 200.5 936.8 204.3 941.7 207.4C946.1 210.1 950.9 212.2 955.7 214.2C960.2 216.2 964.9 218.0 969.6 219.3C978.8 222.0 988.0 224.7 997.4 226.3C1011.5 228.6 1025.8 230.1 1040.0 231.1C1055.8 232.2 1071.7 232.2 1087.5 232.5C1102.0 232.9 1116.5 233.4 1131.0 233.1C1140.7 232.9 1150.4 232.3 1160.0 231.0C1164.1 230.4 1168.2 229.1 1172.0 227.5C1175.2 226.1 1178.1 224.0 1181.0 222.0C1183.4 220.3 1186.0 218.7 1188.0 216.5C1190.1 214.2 1192.0 211.4 1193.3 208.5C1196.1 202.5 1198.7 196.2 1200.3 189.7C1204.3 173.3 1206.8 156.6 1210.2 140.0C1213.0 126.1 1216.0 112.3 1218.8 98.4C1221.8 83.8 1224.4 69.2 1227.5 54.7C1230.8 39.1 1234.5 23.6 1238.0 8.0" stroke="#808000" stroke-width="3.7"/>
<circle cx="436.0" cy="378.0" r="1.5" fill="#800000"/><circle cx="447.9" cy="380.1" r="1.1" fill="#800000"/><circle cx="461.9" cy="380.5" r="1.0" fill="#000080"/><circle cx="470.4" cy="380.5" r="1.4" fill="#ff0000"/><circle cx="484.0" cy="379.9" r="1.2" fill="#ff00ff"/><circle cx="497.8" cy="378.8" r="1.0" fill="#ff0000"/><circle cx="506.9" cy="378.8" r="1.0" fill="#800000"/><circle cx="517.5" cy="378.0" r="1.1" fill="#008000"/><circle cx="531.6" cy="377.3" r="1.3" fill="#800000"/><circle cx="545.8" cy="376.6" r="1.3" fill="#0000ff"/><circle cx="560.6" cy="375.9" r="1.1" fill="#000080"/><circle cx="567.9" cy="375.3" r="1.1" fill="#0000ff"/><circle cx="584.2" cy="374.5" r="1.5" fill="#ff0000"/><circle cx="593.5" cy="373.6" r="1.0" fill="#800080"/><circle cx="611.3" cy="372.8" r="1.0" fill="#008000"/><circle cx="626.9" cy="371.8" r="1.0" fill="#8000ff"/><circle cx="634.1" cy="371.2" r="1.5" fill="#ff00ff"/><circle cx="643.8" cy="370.4" r="1.0" fill="#800000"/><circle cx="652.7" cy="368.6" r="1.2" fill="#008000"/><circle cx="670.6" cy="365.6" r="1.2" fill="#800080"/><circle cx="678.8" cy="364.4" r="1.1" fill="#000080"/><circle cx="405.0" cy="416.0" r="1.5" fill="#ff0000"/><circle cx="416.9" cy="416.5" r="1.4" fill="#0000ff"/><circle cx="426.5" cy="417.8" r="1.2" fill="#ff0000"/><circle cx="446.4" cy="420.6" r="1.1" fill="#0000ff"/><circle cx="456.4" cy="422.3" r="1.3" fill="#ff0000"/><circle cx="473.8" cy="425.3" r="1.2" fill="#800000"/><circle cx="494.5" cy="429.4" r="1.2" fill="#ff00ff"/><circle cx="507.8" cy="431.5" r="1.3" fill="#008000"/><circle cx="519.0" cy="432.9" r="1.3" fill="#800080"/><circle cx="540.4" cy="435.7" r="1.2" fill="#0000ff"/><circle cx="550.9" cy="437.8" r="1.1" fill="#800080"/><circle cx="563.5" cy="440.1" r="1.3" fill="#000080"/><circle cx="579.8" cy="447.7" r="1.5" fill="#ff00ff"/><circle cx="592.0" cy="455.6" r="1.4" fill="#0000ff"/><circle cx="604.9" cy="465.4" r="1.1" fill="#ff0000"/><circle cx="614.9" cy="474.7" r="1.1" fill="#ff0000"/><circle cx="626.4" cy="486.5" r="1.3" fill="#ff00ff"/><circle cx="905.0" cy="166.8" r="1.5" fill="#808000"/><circle cx="936.2" cy="201.1" r="1.5" fill="#808000"/><circle cx="965.5" cy="215.8" r="1.5" fill="#808000"/><circle cx="1001.2" cy="224.7" r="1.5" fill="#808000"/><circle cx="1033.6" cy="228.4" r="1.5" fill="#808000"/><circle cx="1072.7" cy="230.1" r="1.5" fill="#808000"/><circle cx="1106.2" cy="230.8" r="1.5" fill="#808000"/><circle cx="1144.9" cy="230.1" r="1.5" fill="#808000"/><circle cx="800.0" cy="310.4" r="1.0" fill="#ff0000"/><circle cx="810.3" cy="309.9" r="1.1" fill="#000080"/><circle cx="825.4" cy="309.1" r="0.9" fill="#8000ff"/><circle cx="847.2" cy="309.2" r="1.2" fill="#ff00ff"/><circle cx="869.9" cy="309.3" r="1.0" fill="#800000"/><circle cx="894.3" cy="309.8" r="1.1" fill="#ff0000"/><circle cx="918.2" cy="310.7" r="1.1" fill="#800080"/><circle cx="934.2" cy="311.6" r="0.9" fill="#0000ff"/><circle cx="954.5" cy="312.0" r="1.3" fill="#8000ff"/><circle cx="970.7" cy="313.0" r="1.1" fill="#800000"/><circle cx="988.1" cy="314.2" r="1.1" fill="#ff0000"/><circle cx="1003.0" cy="315.7" r="0.9" fill="#0000ff"/><circle cx="1021.0" cy="316.8" r="1.3" fill="#000080"/><circle cx="1045.3" cy="319.4" r="1.0" fill="#008000"/><circle cx="1063.6" cy="321.1" r="1.0" fill="#800000"/><circle cx="1081.6" cy="323.6" r="1.1" fill="#000080"/><circle cx="1094.8" cy="326.1" r="1.2" fill="#008000"/><circle cx="1118.9" cy="330.9" r="1.1" fill="#8000ff"/><circle cx="1132.2" cy="333.6" r="1.0" fill="#ff0000"/><circle cx="1245.4" cy="45.5" r="1.3" fill="#800000"/><circle cx="1245.4" cy="54.0" r="1.3" fill="#0000ff"/><circle cx="1245.4" cy="65.0" r="1.3" fill="#800000"/><circle cx="1245.4" cy="86.0" r="1.3" fill="#800080"/><circle cx="1245.4" cy="110.0" r="1.3" fill="#ff0000"/>
</g>
<rect x="225" y="21.5" width="1051" height="856.5" fill="none" stroke="#000" stroke-width="4.6"/>
<path d="M225.0 21.5 H207.5M225.0 164.2 H207.5M225.0 307.0 H207.5M225.0 449.8 H207.5M225.0 592.5 H207.5M225.0 735.2 H207.5M225.0 878.0 H207.5M225.0 92.9 H215.5M225.0 235.7 H215.5M225.0 378.4 H215.5M225.0 521.1 H215.5M225.0 663.9 H215.5M225.0 806.6 H215.5M255.2 878.0 V895.0M378.8 878.0 V895.0M502.4 878.0 V895.0M626.1 878.0 V895.0M749.7 878.0 V895.0M873.3 878.0 V895.0M996.9 878.0 V895.0M1120.5 878.0 V895.0M1244.2 878.0 V895.0M317.0 878.0 V887.0M440.6 878.0 V887.0M564.2 878.0 V887.0M687.9 878.0 V887.0M811.5 878.0 V887.0M935.1 878.0 V887.0M1058.7 878.0 V887.0M1182.4 878.0 V887.0" stroke="#000" stroke-width="4.6" fill="none"/>
<text x="197.6" y="31.9" font-size="32.5" letter-spacing="0.3" text-anchor="end">0.00010</text>
<text x="197.6" y="174.7" font-size="32.5" letter-spacing="0.3" text-anchor="end">0.00005</text>
<text x="197.6" y="317.4" font-size="32.5" letter-spacing="0.3" text-anchor="end">0.00000</text>
<text x="197.6" y="460.1" font-size="32.5" letter-spacing="0.3" text-anchor="end">-0.00005</text>
<text x="197.6" y="602.9" font-size="32.5" letter-spacing="0.3" text-anchor="end">-0.00010</text>
<text x="197.6" y="745.6" font-size="32.5" letter-spacing="0.3" text-anchor="end">-0.00015</text>
<text x="197.6" y="888.4" font-size="32.5" letter-spacing="0.3" text-anchor="end">-0.00020</text>
<text x="255.8" y="931.3" font-size="32.5" letter-spacing="0.5" text-anchor="middle">0.0</text>
<text x="379.4" y="931.3" font-size="32.5" letter-spacing="0.5" text-anchor="middle">0.2</text>
<text x="503.0" y="931.3" font-size="32.5" letter-spacing="0.5" text-anchor="middle">0.4</text>
<text x="626.7" y="931.3" font-size="32.5" letter-spacing="0.5" text-anchor="middle">0.6</text>
<text x="750.3" y="931.3" font-size="32.5" letter-spacing="0.5" text-anchor="middle">0.8</text>
<text x="873.9" y="931.3" font-size="32.5" letter-spacing="0.5" text-anchor="middle">1.0</text>
<text x="997.5" y="931.3" font-size="32.5" letter-spacing="0.5" text-anchor="middle">1.2</text>
<text x="1121.1" y="931.3" font-size="32.5" letter-spacing="0.5" text-anchor="middle">1.4</text>
<text x="1244.8" y="931.3" font-size="32.5" letter-spacing="0.5" text-anchor="middle">1.6</text>
<text x="750" y="997" font-size="39" letter-spacing="0.55" text-anchor="middle">E (V) vs RHE</text>
<text transform="translate(34.6 476) rotate(-90)" font-size="40.5" letter-spacing="0.6" text-anchor="middle">Current (A)</text>
<rect x="238.7" y="32.8" width="131.3" height="243.9" fill="#fff" stroke="#1a1a1a" stroke-width="2.7"/>
<line x1="250.5" x2="291.5" y1="54.9" y2="54.9" stroke="#000000" stroke-width="3.4"/>
<text x="297" y="60.5" font-size="17.4" letter-spacing="0.5">Cycle 1</text>
<line x1="250.5" x2="291.5" y1="78.3" y2="78.3" stroke="#ff0000" stroke-width="3.4"/>
<text x="297" y="83.9" font-size="17.4" letter-spacing="0.5">Cycle 2</text>
<line x1="250.5" x2="291.5" y1="101.7" y2="101.7" stroke="#0000ff" stroke-width="3.4"/>
<text x="297" y="107.3" font-size="17.4" letter-spacing="0.5">Cycle 3</text>
<line x1="250.5" x2="291.5" y1="125.1" y2="125.1" stroke="#ff00ff" stroke-width="3.4"/>
<text x="297" y="130.7" font-size="17.4" letter-spacing="0.5">Cycle 4</text>
<line x1="250.5" x2="291.5" y1="148.5" y2="148.5" stroke="#008000" stroke-width="3.4"/>
<text x="297" y="154.1" font-size="17.4" letter-spacing="0.5">Cycle 5</text>
<line x1="250.5" x2="291.5" y1="171.9" y2="171.9" stroke="#000080" stroke-width="3.4"/>
<text x="297" y="177.5" font-size="17.4" letter-spacing="0.5">Cycle 6</text>
<line x1="250.5" x2="291.5" y1="195.3" y2="195.3" stroke="#8000ff" stroke-width="3.4"/>
<text x="297" y="200.9" font-size="17.4" letter-spacing="0.5">Cycle 7</text>
<line x1="250.5" x2="291.5" y1="218.7" y2="218.7" stroke="#800080" stroke-width="3.4"/>
<text x="297" y="224.3" font-size="17.4" letter-spacing="0.5">Cycle 8</text>
<line x1="250.5" x2="291.5" y1="242.1" y2="242.1" stroke="#800000" stroke-width="3.4"/>
<text x="297" y="247.7" font-size="17.4" letter-spacing="0.5">Cycle 9</text>
<line x1="250.5" x2="291.5" y1="265.5" y2="265.5" stroke="#808000" stroke-width="4"/>
<text x="297" y="271.1" font-size="17.4" letter-spacing="0.5">Cycle 10</text>
<text x="1080.5" y="373.7" font-size="21.5" letter-spacing="0.9">Starting potential</text>
<path d="M990.5 364.5 L1014.5 358 L1014.5 371 Z" fill="#000"/><line x1="1013" y1="364.5" x2="1069.5" y2="364.5" stroke="#000" stroke-width="3.2"/>
<path d="M254.3 618.0 L247.1 641.5 L261.5 641.5 Z" fill="#000"/><line x1="254.3" y1="640.5" x2="254.3" y2="830.0" stroke="#000" stroke-width="3.2"/>
<path d="M500.8 615.0 L493.6 639.0 L508.0 639.0 Z" fill="#000"/><line x1="500.8" y1="638.0" x2="500.8" y2="827.0" stroke="#000" stroke-width="3.2"/>
<path d="M690.4 620.0 L683.2 644.0 L697.6 644.0 Z" fill="#000"/><line x1="690.4" y1="643.0" x2="690.4" y2="831.0" stroke="#000" stroke-width="3.2"/>
</g>
</svg></body></html>
